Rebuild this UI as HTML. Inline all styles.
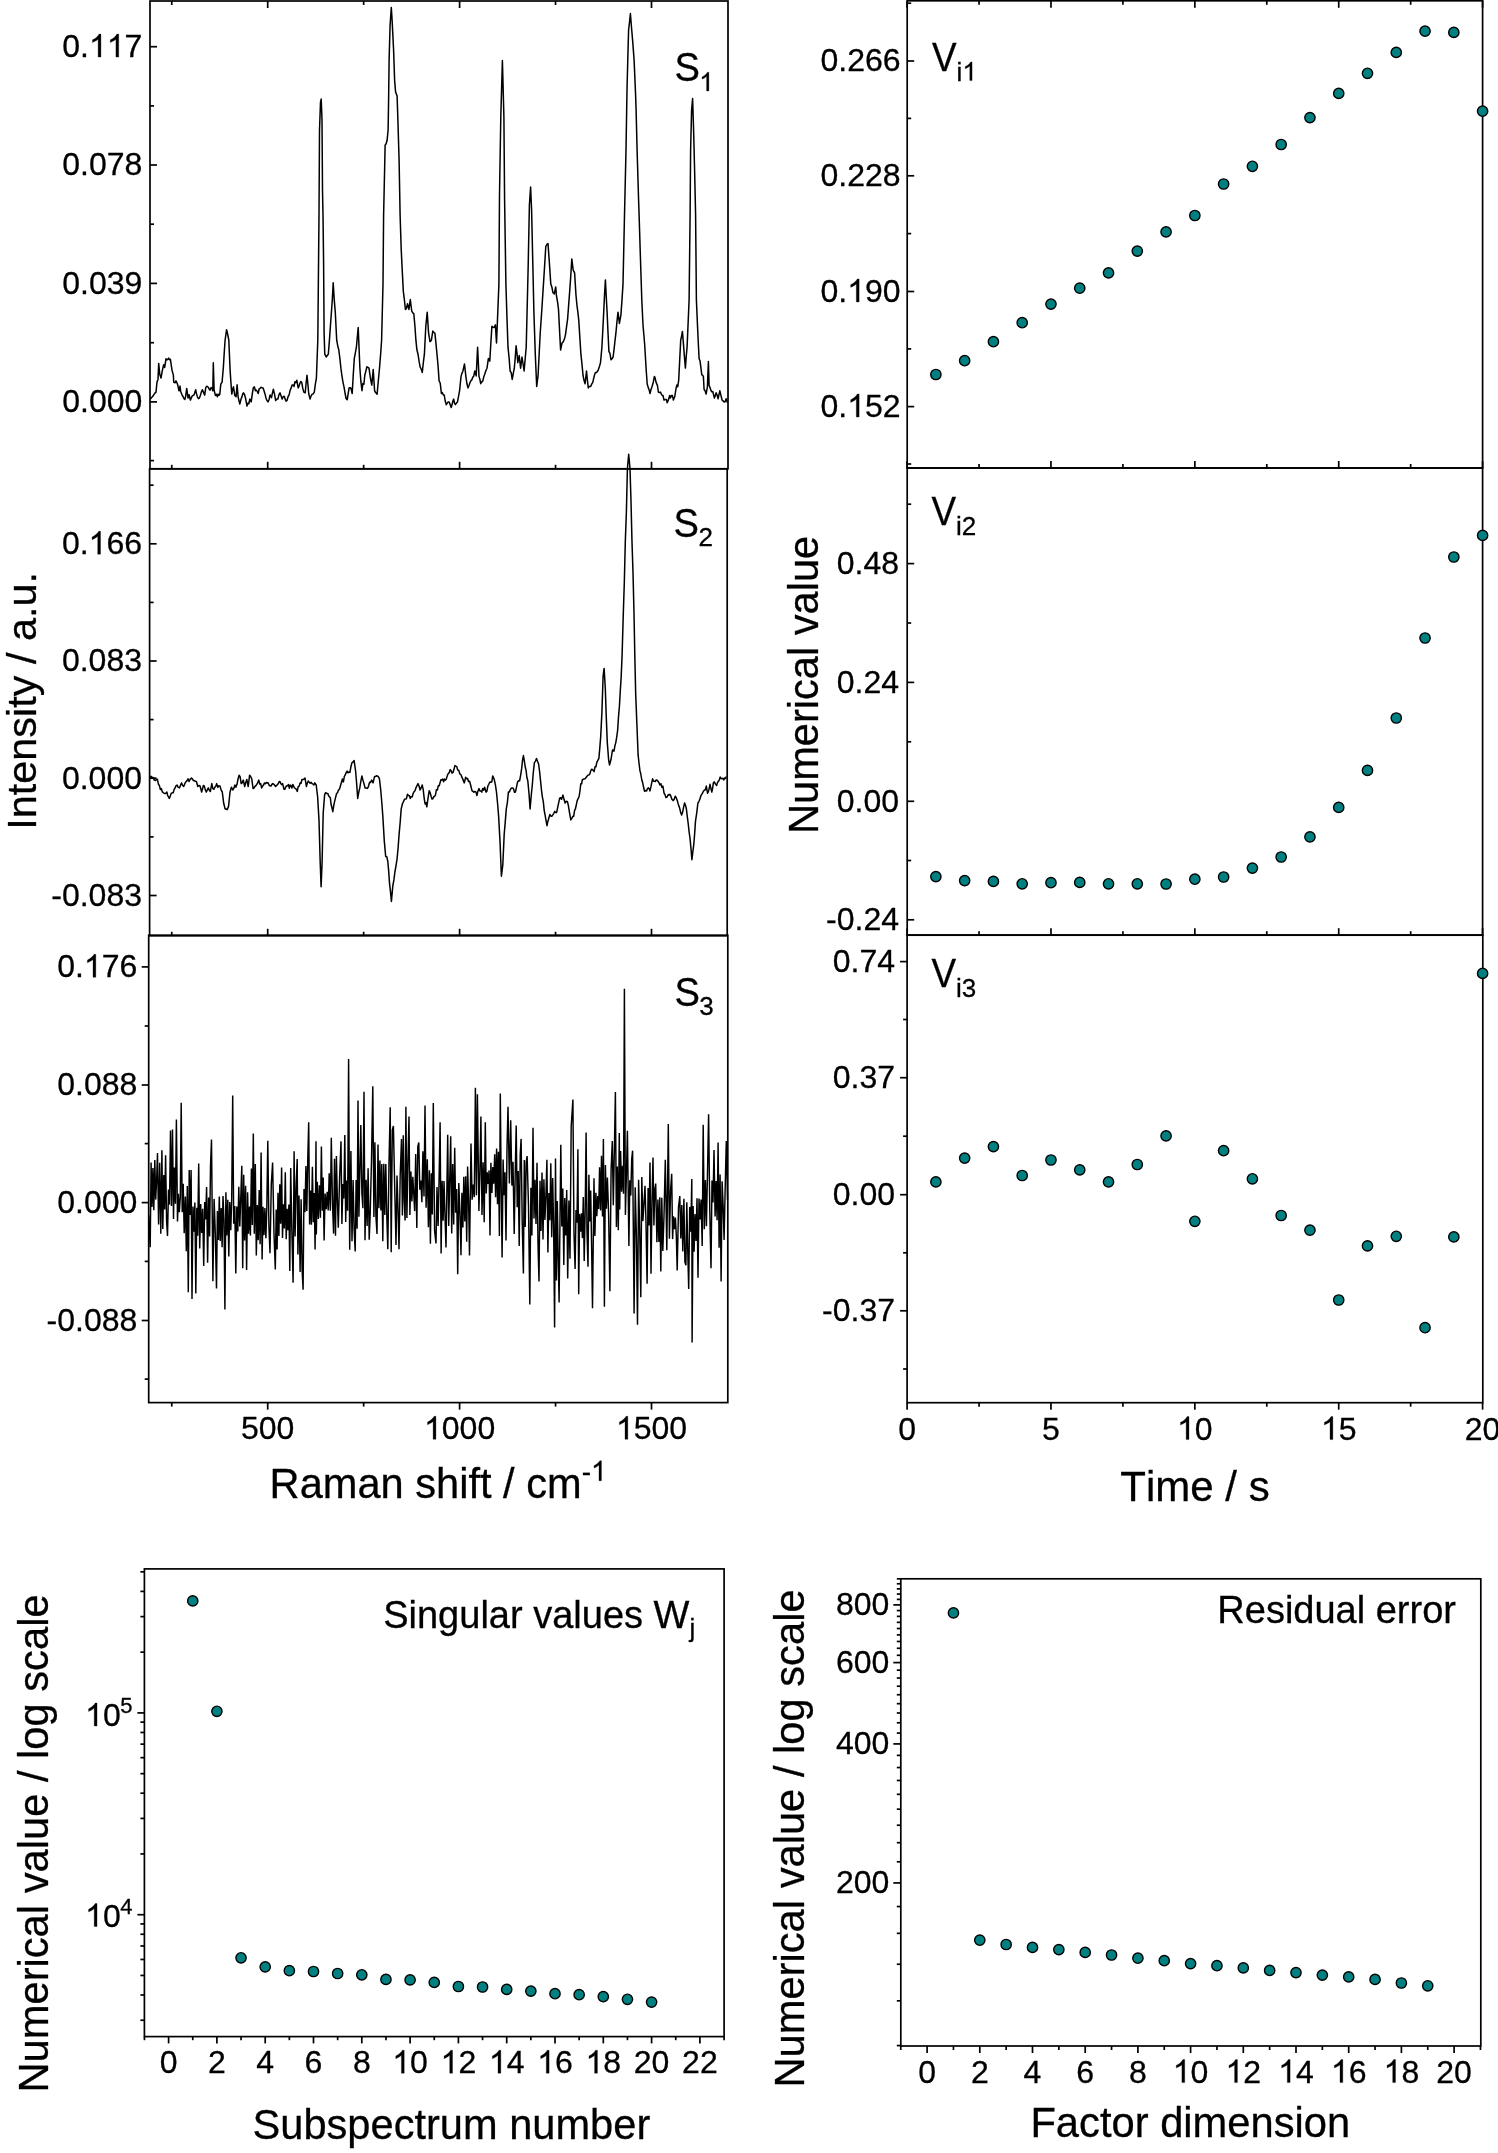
<!DOCTYPE html>
<html><head><meta charset="utf-8"><style>
html,body{margin:0;padding:0;background:#fff;width:1498px;height:2153px;overflow:hidden;}
svg{display:block;will-change:transform;font-family:"Liberation Sans", sans-serif;}
svg text{fill:#000;font-kerning:none;stroke:#000;stroke-width:0.3px;}
</style></head><body>
<svg width="1498" height="2153" viewBox="0 0 1498 2153"><path d="M150.0,398.6 L151.0,398.4 L152.3,396.8 L153.5,395.2 L154.7,393.4 L156.0,392.1 L157.0,382.1 L158.0,379.4 L158.7,363.4 L159.7,374.1 L161.0,378.1 L162.4,370.1 L163.7,364.7 L164.7,367.4 L166.0,358.7 L166.9,359.9 L167.8,359.3 L168.7,358.1 L169.6,359.8 L170.4,359.4 L172.0,370.1 L173.4,375.4 L173.7,382.1 L175.0,382.8 L176.0,380.8 L176.8,382.5 L177.7,384.8 L179.0,390.8 L180.0,386.1 L180.7,391.4 L182.0,394.8 L183.0,396.5 L184.0,398.8 L184.8,399.5 L185.7,396.1 L186.7,388.4 L188.1,398.1 L189.1,394.8 L190.4,400.1 L191.2,398.3 L192.1,396.1 L193.1,395.4 L194.1,394.8 L195.7,389.8 L196.6,394.1 L197.4,396.8 L198.4,398.7 L199.4,398.1 L200.4,395.3 L201.4,391.9 L202.4,389.8 L203.4,392.1 L204.7,395.1 L205.7,387.8 L206.7,386.2 L207.7,386.8 L208.5,387.5 L209.3,389.5 L210.1,390.1 L211.1,387.6 L212.1,388.1 L212.8,390.8 L213.3,362.7 L214.1,390.1 L215.4,395.4 L216.4,394.4 L217.4,396.8 L218.2,394.1 L219.0,395.3 L219.8,394.1 L220.8,384.1 L222.1,382.1 L223.4,366.7 L224.2,353.2 L225.1,340.0 L226.6,329.7 L227.7,334.5 L228.8,340.0 L230.1,370.1 L230.9,382.2 L231.8,394.1 L232.7,389.0 L233.5,386.8 L234.8,395.4 L236.1,396.8 L237.1,384.8 L238.1,396.8 L238.9,400.4 L239.8,404.1 L241.1,398.8 L241.9,397.1 L242.7,394.0 L243.5,392.8 L244.5,394.5 L245.5,398.0 L247.0,406.1 L247.9,403.3 L248.9,403.7 L249.8,399.1 L251.2,401.9 L252.2,394.3 L253.3,387.9 L254.4,386.9 L255.4,390.7 L256.3,390.1 L257.3,391.4 L258.2,393.5 L259.1,389.0 L260.1,388.4 L261.0,387.2 L262.1,387.9 L263.1,387.9 L264.0,390.8 L265.0,393.9 L265.9,397.7 L266.9,400.4 L268.0,401.9 L269.1,399.5 L270.1,394.9 L271.5,397.7 L272.4,393.2 L273.4,389.3 L274.5,394.2 L275.7,400.5 L276.8,399.1 L277.9,399.1 L278.9,394.9 L280.0,392.8 L281.1,395.9 L282.1,399.1 L283.1,396.8 L284.2,396.3 L285.1,398.9 L286.1,401.2 L287.0,400.5 L288.1,396.5 L289.1,394.9 L290.1,390.4 L291.2,387.9 L292.1,385.1 L293.1,384.9 L294.0,386.5 L294.9,381.8 L295.9,382.6 L296.8,380.2 L298.2,387.9 L299.1,385.9 L299.9,383.3 L300.8,381.5 L301.7,382.3 L302.8,388.4 L303.8,392.1 L305.2,392.8 L306.1,383.2 L307.0,375.2 L307.9,384.2 L308.7,393.5 L310.1,399.1 L311.1,395.9 L312.2,394.2 L313.2,393.9 L314.3,392.1 L315.4,383.8 L316.4,378.0 L317.8,340.2 L319.0,215.0 L319.5,130.2 L320.5,102.1 L321.2,99.1 L322.0,120.2 L322.5,190.2 L323.0,215.0 L323.6,263.0 L324.1,333.2 L324.8,354.2 L326.2,357.0 L327.2,355.5 L328.3,354.2 L329.4,340.6 L330.4,326.2 L331.3,313.7 L332.3,299.8 L333.2,282.7 L334.2,299.1 L335.3,312.2 L336.7,340.2 L337.8,346.1 L338.8,350.0 L339.9,358.6 L340.9,368.2 L341.9,375.6 L343.0,382.3 L344.1,387.4 L345.1,393.5 L346.1,398.5 L347.2,399.8 L348.1,394.1 L349.1,387.9 L350.0,387.7 L350.8,387.9 L352.2,393.5 L353.2,375.7 L354.3,358.4 L355.4,352.6 L356.4,347.2 L357.3,337.2 L358.2,327.6 L359.0,346.9 L359.9,368.2 L360.9,381.7 L362.0,390.7 L362.9,383.4 L363.9,384.3 L364.8,375.2 L365.9,370.9 L366.9,366.8 L367.9,367.3 L369.0,368.2 L370.4,378.0 L371.8,385.1 L373.2,369.6 L374.6,390.7 L375.4,392.3 L376.3,393.3 L377.1,394.2 L378.3,381.0 L379.5,368.2 L380.6,354.6 L381.6,340.2 L383.0,284.1 L383.6,215.0 L384.6,170.2 L385.1,145.2 L386.1,143.8 L387.1,140.2 L388.1,130.2 L388.6,100.1 L389.1,60.1 L390.1,25.0 L391.3,7.5 L392.1,20.0 L393.6,50.1 L394.6,80.1 L395.6,92.1 L397.1,96.1 L397.9,120.2 L399.1,160.2 L400.1,215.0 L401.2,249.1 L402.2,269.6 L403.3,291.1 L404.4,299.8 L405.4,309.4 L406.4,308.7 L407.5,303.7 L408.9,309.4 L410.3,299.5 L411.7,310.8 L412.8,312.8 L413.8,313.6 L414.9,325.8 L415.9,340.2 L416.9,349.8 L418.0,354.2 L419.1,361.4 L420.1,366.8 L421.2,369.0 L422.3,372.4 L423.4,362.0 L424.4,354.2 L425.8,326.2 L427.2,312.2 L428.6,333.2 L430.0,341.6 L431.4,340.2 L432.8,331.1 L433.9,332.5 L434.9,333.2 L435.9,342.8 L437.0,354.2 L438.1,366.4 L439.1,380.9 L440.2,383.0 L441.4,393.5 L442.3,392.5 L443.3,395.0 L444.2,394.9 L445.2,401.0 L446.3,404.7 L447.4,402.8 L448.4,401.9 L449.3,402.2 L450.3,404.9 L451.2,407.5 L452.0,404.8 L452.9,401.0 L453.7,399.1 L454.5,403.2 L455.4,404.7 L456.4,403.1 L457.5,401.9 L458.6,396.1 L459.6,390.7 L461.0,376.6 L461.9,373.4 L462.8,371.5 L463.6,367.9 L464.5,364.0 L465.9,376.6 L466.9,383.8 L468.0,387.9 L469.1,385.3 L470.1,382.3 L471.0,380.6 L471.9,379.7 L472.7,377.2 L473.6,376.6 L474.8,371.0 L476.2,375.9 L477.6,347.2 L479.0,376.6 L479.9,379.3 L480.7,383.7 L481.8,381.9 L482.8,380.9 L483.9,376.4 L484.9,373.8 L485.9,370.5 L487.0,368.2 L488.4,358.4 L489.8,361.2 L490.9,342.0 L491.9,326.2 L492.9,327.3 L494.0,327.6 L495.4,324.8 L496.5,343.0 L497.5,319.2 L498.9,284.1 L499.5,194.9 L500.8,117.0 L502.4,60.4 L503.9,117.0 L504.6,200.0 L505.9,284.1 L506.9,315.7 L508.0,347.2 L509.1,357.8 L510.1,371.0 L511.2,372.7 L512.2,379.4 L513.2,373.8 L514.3,368.2 L515.2,358.2 L516.1,345.8 L517.0,353.4 L517.8,362.6 L519.2,355.6 L520.6,368.2 L522.0,357.0 L523.0,363.5 L524.1,371.0 L525.2,358.5 L526.2,347.2 L527.2,306.8 L528.2,265.0 L529.4,205.0 L530.6,187.1 L531.6,210.0 L532.5,250.0 L533.9,312.2 L535.3,354.2 L536.7,386.5 L538.1,375.2 L539.2,353.2 L540.2,333.2 L541.1,320.3 L542.1,305.5 L543.0,291.1 L543.9,277.2 L544.9,261.2 L545.8,246.3 L546.9,244.6 L548.0,243.5 L549.4,263.1 L550.8,284.1 L551.8,286.7 L552.9,292.5 L554.3,293.9 L555.7,286.9 L556.4,295.3 L557.5,301.6 L558.5,309.4 L559.5,329.4 L560.6,350.0 L562.0,343.0 L563.4,341.6 L564.5,338.8 L565.5,334.6 L566.5,327.2 L567.6,319.2 L568.7,304.4 L569.7,291.1 L570.8,275.5 L571.8,258.9 L573.2,270.1 L574.6,272.9 L576.0,295.3 L576.9,304.8 L577.9,312.3 L578.8,320.6 L579.8,336.9 L580.9,354.2 L582.0,364.3 L583.0,375.2 L584.0,380.3 L585.1,383.7 L586.5,371.0 L587.4,380.0 L588.3,387.9 L589.1,386.4 L589.9,386.6 L590.7,386.5 L591.8,383.9 L592.8,382.3 L593.7,378.2 L594.7,374.3 L595.6,372.4 L596.5,372.4 L597.5,371.3 L598.4,369.6 L599.5,366.2 L600.5,362.6 L601.9,347.2 L602.8,330.3 L603.7,312.2 L604.5,295.3 L605.4,279.9 L606.2,295.9 L607.1,312.2 L608.0,332.5 L608.9,351.4 L610.0,353.6 L611.0,359.8 L612.0,358.8 L613.1,357.0 L614.0,349.9 L615.0,340.6 L615.9,333.2 L617.0,321.2 L618.0,312.2 L619.4,323.4 L620.9,315.0 L622.0,299.9 L623.0,284.1 L624.5,215.0 L626.0,150.2 L627.0,90.1 L627.8,59.1 L628.6,30.0 L629.5,22.4 L630.4,13.5 L631.5,27.5 L632.6,40.1 L634.1,60.1 L635.6,95.1 L636.1,110.1 L637.1,150.2 L638.6,200.3 L639.1,215.0 L640.5,260.0 L641.8,300.0 L643.0,325.0 L643.9,335.2 L644.7,345.0 L646.2,370.0 L647.2,384.0 L648.4,388.1 L649.2,390.0 L650.0,393.5 L651.0,389.5 L652.0,386.8 L653.2,382.5 L654.4,376.4 L655.2,378.3 L656.0,382.1 L657.4,385.4 L658.4,392.1 L659.4,392.6 L660.4,392.1 L661.4,394.1 L662.2,395.4 L663.0,395.5 L664.0,400.1 L665.2,399.5 L666.4,399.5 L667.2,402.8 L668.1,400.8 L668.9,398.2 L669.7,395.5 L670.5,397.9 L671.4,395.5 L672.4,395.6 L673.4,400.1 L674.7,396.8 L676.1,388.1 L676.9,385.0 L677.7,386.8 L678.7,380.1 L679.7,360.1 L680.7,340.1 L681.5,336.8 L682.4,331.4 L683.4,343.4 L684.4,356.4 L685.4,368.1 L686.2,357.1 L687.1,346.7 L688.1,323.4 L689.1,300.0 L690.1,215.0 L690.6,150.2 L691.6,110.1 L692.6,98.6 L693.6,130.2 L694.6,170.2 L695.6,215.0 L696.4,300.0 L697.4,323.4 L698.2,341.0 L699.1,358.7 L700.0,360.7 L700.8,366.8 L701.8,374.8 L702.6,375.1 L703.4,376.8 L704.1,389.5 L705.1,390.7 L706.1,394.1 L707.4,386.8 L708.4,361.4 L709.1,385.4 L710.0,387.5 L710.8,390.1 L711.8,391.8 L712.8,391.5 L713.6,394.9 L714.4,398.1 L715.2,395.9 L716.1,392.8 L717.1,395.0 L718.1,398.8 L719.0,394.3 L719.8,390.8 L721.0,395.6 L722.1,400.1 L723.1,400.8 L724.1,402.1 L725.1,401.8 L726.1,398.8 L727.5,402.8" fill="none" stroke="#000" stroke-width="1.5" stroke-linejoin="round"/>
<path d="M150.1,778.0 L151.1,776.4 L152.2,777.3 L153.2,777.4 L154.3,780.1 L155.4,780.5 L156.4,779.4 L157.4,779.3 L158.5,784.3 L159.4,785.6 L160.4,789.6 L161.3,788.6 L162.4,791.9 L163.4,792.8 L164.4,793.4 L165.5,793.5 L166.9,792.1 L167.7,795.7 L168.5,796.9 L169.3,798.4 L170.2,796.4 L171.1,793.5 L172.1,792.8 L173.2,792.8 L174.1,789.6 L175.1,787.9 L176.0,785.7 L177.1,785.1 L178.1,787.2 L179.5,787.9 L180.6,785.0 L181.6,782.9 L182.6,785.5 L183.7,786.5 L185.2,782.9 L186.1,781.6 L187.1,780.6 L188.0,778.7 L189.1,781.5 L190.1,779.4 L191.5,778.0 L192.4,779.0 L193.4,780.5 L194.3,780.8 L195.4,781.3 L196.4,781.5 L197.8,786.5 L198.9,785.5 L199.9,785.7 L200.8,788.5 L201.6,792.1 L202.4,789.6 L203.3,785.6 L204.1,785.7 L205.1,788.9 L206.2,792.1 L207.2,790.2 L208.3,787.9 L209.4,790.4 L210.4,791.4 L211.8,783.6 L212.9,788.7 L213.9,789.3 L214.8,787.2 L215.8,786.2 L216.7,783.6 L217.8,787.4 L218.8,785.7 L219.9,785.9 L220.9,789.3 L222.3,792.1 L223.7,803.3 L225.1,808.9 L226.1,808.8 L227.2,809.6 L228.6,806.1 L230.0,792.1 L231.4,787.2 L232.8,790.0 L233.9,788.2 L234.9,785.0 L235.9,787.2 L237.0,784.3 L238.1,778.7 L239.1,775.2 L240.1,776.7 L241.2,783.6 L242.2,782.6 L243.3,780.1 L244.7,786.5 L245.8,782.4 L246.8,779.4 L248.2,786.5 L249.6,775.2 L250.6,776.5 L251.7,778.7 L253.1,788.6 L254.0,788.1 L255.0,786.4 L255.9,785.7 L256.9,784.2 L257.8,782.4 L258.8,780.1 L259.7,784.1 L260.7,783.6 L261.6,787.9 L262.5,786.3 L263.5,785.1 L264.4,783.0 L265.3,783.8 L266.3,782.5 L267.2,783.0 L268.1,782.8 L269.1,785.3 L270.0,785.7 L270.9,786.2 L271.9,784.4 L272.8,783.6 L273.7,784.2 L274.7,785.3 L275.6,786.5 L276.5,785.5 L277.5,784.6 L278.4,783.6 L279.2,781.5 L280.1,781.7 L280.9,783.8 L281.8,784.6 L282.6,783.6 L284.0,789.3 L284.9,789.2 L285.9,786.6 L286.8,785.7 L287.6,785.7 L288.5,784.5 L289.3,788.2 L290.2,785.1 L291.0,785.7 L291.9,788.0 L292.8,784.4 L293.6,786.2 L294.5,787.9 L295.4,788.5 L296.4,789.4 L297.3,791.4 L298.2,786.7 L299.2,786.1 L300.1,783.0 L301.0,783.2 L302.0,779.5 L302.9,779.4 L303.9,779.3 L305.0,778.0 L306.4,786.5 L307.3,783.0 L308.3,781.0 L309.2,782.2 L310.1,783.3 L311.1,782.3 L312.0,783.6 L312.9,783.9 L313.9,785.0 L314.8,782.9 L316.2,785.0 L317.6,796.3 L319.0,820.1 L320.2,862.2 L321.1,886.7 L322.1,862.2 L323.2,813.1 L324.6,794.9 L325.6,792.6 L326.7,793.5 L327.8,793.6 L328.9,796.3 L330.3,797.7 L331.1,804.5 L332.0,807.9 L332.8,811.7 L333.6,806.5 L334.5,801.9 L335.6,797.4 L336.6,793.5 L337.5,792.7 L338.5,790.1 L339.4,789.3 L340.4,786.0 L341.5,782.2 L342.4,778.9 L343.4,781.9 L344.3,776.6 L345.2,774.9 L346.2,772.6 L347.1,771.0 L348.0,772.8 L349.0,772.0 L349.9,772.4 L350.9,766.8 L352.0,762.6 L353.1,762.0 L354.1,760.5 L355.6,771.0 L356.6,783.0 L357.7,798.4 L358.8,792.0 L359.8,787.9 L360.9,780.8 L361.9,775.9 L362.9,780.1 L364.0,783.6 L365.1,788.1 L366.1,787.9 L367.1,788.4 L368.2,787.2 L369.6,782.2 L370.6,782.4 L371.7,780.1 L373.1,782.9 L374.5,776.6 L375.4,776.6 L376.4,775.8 L377.3,775.9 L378.4,776.8 L379.4,778.7 L380.8,790.7 L381.9,803.7 L382.9,817.3 L384.3,841.1 L385.7,856.5 L386.8,856.7 L387.9,862.2 L388.7,871.4 L389.5,883.2 L390.4,890.9 L391.4,901.4 L392.8,886.0 L393.9,879.9 L394.9,872.0 L395.9,866.4 L397.0,859.4 L398.1,848.0 L399.1,834.1 L400.1,823.2 L401.2,808.9 L402.6,803.3 L403.5,801.6 L404.5,799.3 L405.4,799.1 L406.4,798.8 L407.5,794.2 L408.4,795.6 L409.4,795.8 L410.3,798.4 L411.2,796.6 L412.2,796.9 L413.1,793.5 L414.0,791.8 L415.0,790.7 L415.9,787.9 L416.9,785.9 L418.0,783.6 L419.1,786.3 L420.1,790.0 L421.1,787.9 L422.2,785.0 L423.2,789.7 L424.3,799.1 L425.1,804.0 L426.0,802.7 L426.8,806.8 L428.0,798.4 L429.2,790.7 L430.1,792.5 L431.1,796.3 L432.0,799.1 L432.9,798.8 L433.8,796.5 L434.6,796.4 L435.5,794.9 L436.4,789.7 L437.4,790.0 L438.3,785.7 L439.2,785.8 L440.1,782.6 L440.9,779.8 L441.8,780.1 L442.7,779.1 L443.6,781.7 L444.4,779.0 L445.3,780.1 L446.2,779.3 L447.2,776.1 L448.1,773.8 L449.1,772.9 L450.2,769.6 L451.1,770.7 L452.1,773.1 L453.0,772.4 L453.9,769.6 L454.9,765.6 L455.8,766.1 L456.8,766.6 L457.7,770.1 L458.7,770.3 L459.8,773.8 L460.8,774.5 L461.9,777.1 L462.9,779.4 L464.3,782.9 L465.7,777.3 L466.6,778.7 L467.6,778.5 L468.5,781.5 L469.6,781.3 L470.6,785.0 L472.0,790.7 L472.9,791.4 L473.9,792.3 L474.8,791.4 L475.9,791.9 L476.9,795.6 L477.9,791.2 L479.0,788.6 L479.9,791.1 L480.9,791.1 L481.8,792.1 L482.7,788.4 L483.7,790.1 L484.6,787.2 L486.0,792.1 L486.9,791.2 L487.9,785.8 L488.8,784.3 L489.9,782.0 L490.9,782.2 L491.8,781.8 L492.7,775.9 L493.5,777.6 L494.4,780.1 L495.4,784.8 L496.5,792.1 L497.6,803.8 L498.6,815.9 L500.0,841.1 L501.4,876.2 L502.8,865.0 L504.2,834.1 L505.2,822.6 L506.3,808.9 L507.4,802.3 L508.4,792.1 L509.4,791.9 L510.5,789.3 L511.6,788.1 L512.6,787.9 L513.5,788.7 L514.5,792.3 L515.4,792.1 L516.5,787.1 L517.5,782.2 L518.5,780.8 L519.6,780.8 L520.7,774.8 L521.7,768.2 L522.5,760.5 L523.4,755.6 L524.3,760.6 L525.2,766.8 L526.1,770.5 L526.9,777.5 L527.8,780.8 L529.0,793.5 L530.1,808.9 L531.2,795.8 L532.3,785.0 L533.3,772.5 L534.4,762.6 L535.5,761.1 L536.5,758.4 L537.5,761.3 L538.6,764.0 L539.5,770.9 L540.5,780.3 L541.4,789.3 L542.3,796.6 L543.3,801.7 L544.2,810.3 L545.1,815.2 L546.1,820.8 L547.0,825.7 L547.9,821.2 L548.9,818.1 L549.8,814.5 L550.8,816.0 L551.8,816.3 L552.8,814.9 L553.8,813.3 L554.8,811.4 L555.7,812.6 L556.6,812.6 L557.6,807.9 L558.7,802.7 L559.7,798.2 L560.6,797.7 L561.5,799.4 L563.0,795.1 L564.0,799.3 L565.1,803.0 L566.3,801.3 L567.5,801.8 L568.4,805.7 L569.3,811.4 L570.8,819.9 L571.8,818.3 L572.9,816.3 L573.7,816.2 L574.6,810.3 L575.4,809.0 L576.3,804.8 L577.2,800.6 L578.1,798.6 L579.0,797.0 L579.9,791.5 L580.8,783.7 L581.6,783.8 L582.4,779.5 L583.2,779.4 L584.1,778.9 L585.0,778.8 L585.9,777.8 L586.8,776.4 L587.8,775.2 L588.8,775.1 L589.8,774.0 L590.8,770.6 L591.7,769.2 L592.9,770.1 L594.1,771.6 L595.0,766.8 L595.9,766.8 L596.8,762.4 L597.7,760.7 L598.9,758.3 L599.8,747.9 L600.7,736.6 L601.9,712.4 L603.1,676.2 L604.1,668.4 L605.3,688.3 L606.1,712.4 L607.3,742.6 L608.6,759.5 L609.5,765.0 L611.0,759.5 L612.5,749.9 L614.0,751.1 L614.9,745.8 L615.8,742.6 L616.7,737.2 L617.6,730.5 L618.5,717.0 L619.4,706.4 L620.3,690.9 L621.2,676.2 L622.1,655.0 L623.3,613.6 L624.3,583.0 L625.3,542.1 L626.4,511.5 L627.4,468.6 L628.7,454.3 L630.0,468.6 L631.0,501.3 L632.0,542.1 L633.0,572.8 L634.0,613.6 L634.8,655.0 L635.7,694.3 L636.9,724.5 L638.1,754.7 L639.0,763.0 L639.9,770.4 L640.8,774.0 L641.8,780.0 L642.7,782.8 L643.6,787.3 L644.6,791.3 L645.6,790.5 L646.6,790.9 L647.5,788.6 L648.4,787.9 L649.2,788.8 L650.0,790.9 L650.9,786.9 L651.7,782.9 L652.6,778.8 L653.5,781.2 L654.4,781.3 L655.3,781.5 L656.2,780.0 L657.1,780.2 L658.0,781.3 L659.0,782.7 L659.9,784.9 L660.9,783.7 L661.9,787.4 L662.9,786.1 L664.1,793.3 L665.0,794.6 L665.9,797.6 L667.1,796.9 L668.3,794.6 L669.1,795.1 L669.9,794.4 L670.7,795.7 L671.9,799.2 L673.1,800.6 L674.1,799.4 L675.2,796.2 L676.2,797.6 L677.4,800.9 L678.6,805.4 L679.6,807.9 L680.6,812.3 L681.6,815.1 L682.6,812.3 L683.6,807.2 L684.6,803.0 L685.5,805.2 L686.4,809.0 L687.3,816.7 L688.2,823.5 L689.1,832.0 L690.0,838.0 L691.0,848.7 L691.9,859.7 L692.8,852.2 L693.7,845.2 L694.6,834.4 L695.5,821.1 L696.7,813.2 L697.9,803.0 L698.9,801.6 L699.9,799.0 L700.9,795.7 L702.1,793.9 L703.3,791.5 L704.3,790.1 L705.3,789.9 L706.3,786.1 L707.6,793.3 L708.8,790.2 L710.0,784.3 L710.9,788.3 L711.8,792.1 L712.6,788.3 L713.4,782.8 L714.2,781.9 L715.4,783.9 L716.6,785.5 L717.5,782.6 L718.4,781.3 L719.3,779.8 L720.2,777.0 L721.1,778.7 L722.0,778.6 L722.9,778.3 L723.8,780.0 L724.6,778.0 L725.5,778.5 L726.3,776.4" fill="none" stroke="#000" stroke-width="1.5" stroke-linejoin="round"/>
<path d="M148.7,1215.0 L150.2,1247.2 L151.1,1162.6 L152.0,1207.1 L152.9,1168.1 L153.8,1210.3 L154.8,1160.1 L155.7,1199.6 L156.6,1180.5 L157.5,1153.0 L158.6,1224.4 L159.7,1162.8 L160.8,1233.8 L161.9,1150.2 L162.8,1229.0 L163.8,1175.1 L164.7,1209.4 L165.6,1155.2 L166.6,1221.6 L167.5,1236.0 L168.5,1189.6 L169.5,1204.6 L170.5,1130.6 L171.5,1205.9 L172.5,1129.6 L173.5,1219.0 L174.4,1167.5 L175.4,1203.7 L176.4,1119.6 L177.5,1221.5 L178.4,1193.8 L179.3,1212.2 L180.3,1197.0 L181.2,1102.8 L182.2,1212.3 L183.2,1183.8 L184.2,1233.3 L185.3,1196.6 L186.3,1251.3 L187.3,1186.1 L188.3,1292.3 L189.2,1170.1 L190.2,1214.9 L191.1,1170.0 L192.0,1299.0 L193.0,1206.5 L193.9,1231.8 L194.9,1202.6 L195.8,1293.6 L196.8,1207.8 L197.7,1235.8 L198.7,1163.6 L199.7,1248.6 L200.7,1204.1 L201.7,1232.9 L202.7,1208.8 L203.7,1266.1 L204.7,1202.1 L205.6,1219.5 L206.6,1186.9 L207.6,1262.8 L208.6,1197.5 L209.6,1236.5 L210.5,1166.1 L211.5,1139.6 L212.9,1281.2 L214.1,1198.9 L215.3,1233.5 L216.5,1288.4 L217.4,1210.9 L218.4,1239.9 L219.3,1196.5 L220.2,1241.0 L221.2,1208.0 L222.1,1247.3 L223.0,1196.0 L224.0,1220.4 L224.9,1309.6 L225.9,1192.3 L226.8,1235.4 L227.8,1199.8 L228.8,1256.4 L229.8,1202.0 L230.8,1230.3 L231.7,1198.8 L232.7,1095.6 L233.7,1223.8 L234.8,1206.0 L235.8,1273.4 L236.8,1206.6 L237.8,1231.4 L238.8,1186.7 L239.8,1226.5 L240.8,1196.8 L241.8,1165.8 L242.7,1268.3 L243.7,1174.7 L244.6,1240.5 L245.6,1185.7 L246.6,1270.0 L247.6,1192.3 L248.5,1233.8 L249.5,1206.6 L250.4,1235.5 L251.4,1168.4 L252.3,1224.9 L253.3,1133.5 L254.3,1233.7 L255.3,1164.0 L256.3,1255.5 L257.3,1205.1 L258.2,1240.3 L259.2,1190.0 L260.1,1244.3 L261.1,1152.6 L262.1,1259.6 L263.0,1206.8 L264.0,1235.1 L264.9,1208.0 L265.9,1238.2 L266.8,1208.3 L267.8,1140.7 L268.9,1226.0 L270.0,1253.3 L271.3,1184.2 L272.6,1162.5 L274.0,1234.0 L275.3,1269.5 L276.2,1209.6 L277.1,1249.5 L278.0,1192.7 L278.9,1236.0 L279.8,1184.3 L280.7,1223.8 L281.6,1167.5 L282.5,1238.0 L283.5,1204.3 L284.4,1228.4 L285.3,1172.3 L286.2,1239.2 L287.1,1208.8 L288.0,1230.2 L288.9,1204.5 L289.8,1270.9 L290.7,1168.0 L291.9,1232.8 L293.1,1282.8 L294.1,1151.3 L295.1,1236.6 L296.2,1184.1 L297.2,1159.0 L297.9,1254.4 L299.0,1195.4 L300.1,1272.0 L301.1,1199.3 L302.1,1270.1 L303.1,1289.7 L304.0,1189.0 L305.0,1212.2 L305.9,1165.9 L306.8,1210.9 L307.8,1158.0 L308.7,1122.2 L309.6,1224.6 L310.5,1190.4 L311.4,1224.7 L312.4,1166.8 L313.3,1222.3 L314.2,1193.0 L315.1,1249.6 L316.0,1141.3 L316.3,1234.6 L317.3,1181.8 L318.3,1219.1 L319.4,1185.2 L320.4,1217.7 L321.4,1146.5 L322.3,1210.8 L323.2,1177.5 L324.1,1240.5 L325.1,1193.6 L326.2,1209.1 L327.2,1191.9 L328.2,1210.5 L329.2,1173.2 L330.3,1210.8 L331.3,1137.7 L332.5,1204.0 L333.6,1233.6 L334.5,1158.8 L335.5,1235.7 L336.4,1155.9 L337.4,1200.7 L338.3,1227.7 L339.6,1177.9 L341.0,1141.3 L341.9,1224.1 L342.9,1183.9 L343.8,1198.6 L344.8,1134.9 L345.7,1222.1 L346.7,1180.5 L347.6,1210.7 L348.6,1059.1 L349.7,1249.8 L350.9,1151.1 L352.0,1241.2 L353.1,1180.0 L354.1,1229.1 L355.2,1251.5 L356.1,1179.9 L357.1,1228.7 L358.0,1100.4 L358.9,1216.7 L359.9,1169.9 L360.8,1124.9 L361.9,1193.6 L362.9,1208.2 L364.0,1091.7 L365.0,1240.3 L366.1,1179.8 L367.1,1226.0 L368.1,1168.3 L369.2,1239.8 L370.2,1214.0 L371.5,1160.3 L372.8,1086.3 L373.9,1217.1 L374.9,1142.2 L375.9,1215.9 L377.0,1233.9 L378.0,1144.5 L378.9,1208.2 L379.9,1160.5 L380.9,1210.6 L381.8,1164.1 L382.8,1241.2 L383.8,1163.8 L384.8,1214.9 L385.8,1163.9 L386.8,1216.1 L387.8,1249.3 L389.0,1163.2 L390.2,1107.3 L391.2,1252.2 L392.3,1130.0 L393.4,1125.9 L394.7,1187.1 L396.0,1244.9 L397.0,1175.5 L398.0,1208.2 L399.0,1249.3 L400.2,1175.3 L401.5,1139.1 L402.4,1215.5 L403.3,1135.2 L404.2,1200.5 L405.1,1220.4 L405.9,1106.8 L406.9,1218.0 L408.0,1157.2 L409.0,1116.4 L409.9,1215.0 L410.9,1171.5 L411.9,1201.5 L412.8,1176.8 L413.8,1194.5 L414.7,1211.1 L415.7,1154.1 L416.8,1228.1 L417.8,1146.6 L418.8,1142.5 L419.8,1189.7 L420.9,1180.6 L421.9,1202.3 L422.9,1151.3 L424.0,1196.6 L425.0,1105.4 L426.1,1207.7 L427.3,1159.3 L428.4,1227.2 L429.4,1170.2 L430.4,1243.8 L431.3,1173.2 L432.3,1214.4 L433.3,1102.9 L434.6,1230.9 L436.0,1243.4 L437.0,1186.9 L438.1,1225.9 L439.1,1178.1 L440.1,1122.2 L441.1,1253.5 L442.1,1180.8 L443.1,1220.8 L444.0,1181.0 L445.0,1216.1 L446.0,1247.4 L447.7,1134.7 L448.7,1226.1 L449.7,1180.9 L450.7,1136.2 L451.7,1233.5 L452.7,1163.9 L453.7,1224.5 L454.7,1147.8 L455.7,1212.8 L456.7,1188.9 L457.7,1274.2 L458.8,1183.0 L459.9,1212.1 L461.0,1255.2 L461.9,1192.7 L462.9,1227.5 L463.8,1176.7 L464.8,1221.4 L465.7,1176.3 L466.7,1241.7 L467.6,1166.6 L468.6,1200.8 L469.5,1255.6 L471.0,1143.5 L472.1,1199.8 L473.2,1184.6 L474.3,1197.1 L475.4,1087.7 L476.4,1195.2 L477.4,1094.3 L478.9,1211.1 L479.9,1172.8 L480.9,1116.4 L482.0,1214.9 L483.1,1162.3 L484.2,1222.2 L485.3,1122.2 L486.2,1193.5 L487.2,1172.2 L488.1,1184.0 L489.1,1170.4 L490.0,1235.6 L490.9,1162.7 L491.9,1193.0 L492.8,1167.0 L493.7,1183.7 L494.7,1154.2 L495.6,1197.3 L496.6,1148.6 L497.5,1204.3 L498.4,1151.7 L499.4,1235.9 L500.3,1093.6 L501.2,1186.1 L502.1,1257.4 L503.1,1159.5 L504.1,1195.2 L505.0,1172.3 L506.0,1240.5 L507.0,1148.0 L508.0,1106.8 L509.4,1183.5 L510.7,1120.3 L511.9,1185.6 L513.0,1161.8 L514.2,1234.0 L515.2,1174.1 L516.2,1125.5 L517.2,1207.2 L518.2,1170.9 L519.2,1245.9 L520.2,1154.8 L521.1,1138.9 L522.2,1220.9 L523.4,1273.4 L524.3,1160.1 L525.2,1227.0 L526.2,1162.2 L527.1,1156.0 L528.5,1205.5 L529.8,1304.6 L530.9,1187.8 L531.9,1235.6 L533.0,1127.7 L534.0,1218.5 L535.0,1179.7 L536.0,1224.1 L537.0,1162.8 L538.0,1244.3 L539.0,1281.6 L540.0,1180.7 L541.0,1231.1 L542.0,1172.6 L543.0,1239.5 L543.9,1179.2 L544.9,1219.9 L545.9,1195.7 L546.9,1159.7 L547.9,1252.6 L548.9,1192.9 L549.8,1220.3 L550.8,1163.2 L551.7,1237.2 L552.7,1177.9 L553.6,1225.6 L554.6,1327.6 L555.5,1158.4 L556.4,1280.4 L557.3,1201.1 L558.2,1256.8 L559.1,1302.4 L560.8,1144.8 L561.8,1226.5 L562.8,1188.6 L563.8,1265.0 L564.7,1198.1 L565.7,1235.6 L566.7,1190.0 L567.7,1278.6 L568.9,1200.4 L570.0,1258.7 L571.2,1126.2 L572.9,1099.5 L574.0,1233.8 L575.1,1268.9 L576.0,1210.1 L577.0,1222.6 L577.9,1149.3 L578.7,1294.2 L579.6,1213.9 L580.6,1231.6 L581.5,1213.2 L582.4,1238.1 L583.3,1196.9 L584.2,1261.1 L585.2,1210.1 L586.1,1132.5 L587.0,1232.3 L588.0,1266.7 L588.9,1174.7 L589.8,1221.5 L590.7,1190.5 L591.6,1245.7 L592.5,1308.3 L594.0,1178.2 L594.9,1235.9 L595.9,1192.7 L596.8,1216.3 L597.8,1196.0 L598.7,1208.9 L599.6,1167.3 L600.6,1210.4 L601.5,1155.8 L602.5,1216.6 L603.4,1138.9 L604.4,1306.8 L605.4,1164.9 L606.4,1208.8 L607.4,1177.5 L608.6,1213.8 L609.9,1291.2 L611.1,1169.5 L612.3,1141.1 L613.3,1205.2 L614.4,1148.7 L615.4,1092.0 L616.4,1227.0 L617.3,1166.5 L618.3,1230.2 L619.3,1132.9 L619.7,1209.5 L620.6,1151.0 L621.6,1191.8 L622.5,1165.9 L623.5,1193.7 L624.4,988.7 L625.4,1214.9 L626.4,1175.2 L627.4,1130.7 L628.9,1245.9 L629.8,1180.2 L630.8,1195.6 L631.7,1159.1 L632.6,1150.7 L634.1,1313.5 L635.2,1187.3 L636.4,1235.5 L637.5,1324.7 L638.6,1179.7 L639.7,1230.8 L640.8,1297.2 L641.8,1177.0 L642.9,1221.1 L644.0,1202.7 L645.0,1185.7 L646.0,1223.3 L647.1,1283.8 L648.1,1188.0 L649.0,1225.5 L650.0,1162.6 L651.0,1273.7 L652.0,1201.0 L653.0,1157.4 L653.9,1225.4 L654.8,1189.5 L655.7,1183.5 L656.9,1242.2 L657.9,1199.5 L658.9,1242.0 L659.8,1197.3 L660.8,1271.5 L661.8,1197.8 L662.8,1251.1 L664.0,1216.1 L665.3,1159.7 L666.8,1250.3 L668.3,1124.0 L669.4,1238.8 L670.6,1190.1 L671.7,1173.8 L672.6,1239.1 L673.5,1216.3 L674.5,1229.3 L675.4,1217.5 L676.3,1234.8 L677.2,1270.4 L678.5,1207.4 L679.8,1196.1 L680.8,1238.4 L681.8,1205.0 L682.8,1251.4 L683.9,1198.8 L684.9,1262.2 L685.9,1265.2 L686.8,1202.2 L687.8,1252.9 L688.7,1289.0 L689.7,1206.9 L690.8,1231.8 L691.8,1179.0 L692.1,1342.5 L693.1,1206.1 L694.1,1251.7 L695.0,1214.0 L696.0,1241.0 L697.0,1198.3 L698.0,1277.8 L699.0,1198.6 L700.1,1219.5 L701.1,1199.6 L702.2,1246.1 L703.2,1124.7 L704.3,1229.2 L705.4,1179.9 L706.4,1226.3 L707.5,1172.4 L708.6,1114.3 L709.8,1212.2 L711.0,1268.2 L712.0,1180.6 L713.0,1202.5 L714.0,1150.0 L715.1,1216.4 L716.1,1181.0 L717.1,1220.2 L718.1,1142.6 L719.1,1247.8 L720.1,1174.5 L721.1,1281.5 L722.1,1181.2 L723.1,1205.0 L724.1,1240.0 L725.2,1187.3 L726.3,1141.1 L727.5,1200.0" fill="none" stroke="#000" stroke-width="1.45" stroke-linejoin="miter" stroke-miterlimit="2.5"/>
<rect x="150.00" y="1.00" width="578.00" height="467.80" fill="none" stroke="#000" stroke-width="1.7"/>
<line x1="150.00" y1="46.70" x2="157.00" y2="46.70" stroke="#000" stroke-width="1.7"/>
<path d="M763,0L583,0L583,1147Q518,1085 412.5,1023Q307,961 223,930L223,1104Q374,1175 487,1276Q600,1377 647,1472L763,1472Z" stroke="#000" stroke-width="19.2" transform="translate(89.01,57.10) scale(0.01562,-0.01562)"/>
<path d="M763,0L583,0L583,1147Q518,1085 412.5,1023Q307,961 223,930L223,1104Q374,1175 487,1276Q600,1377 647,1472L763,1472Z" stroke="#000" stroke-width="19.2" transform="translate(106.81,57.10) scale(0.01562,-0.01562)"/>
<text x="62.32 80.12 124.60" y="57.10" font-size="32">0.7</text>
<line x1="150.00" y1="165.00" x2="157.00" y2="165.00" stroke="#000" stroke-width="1.7"/>
<text x="62.32 80.12 89.01 106.81 124.60" y="175.40" font-size="32">0.078</text>
<line x1="150.00" y1="283.40" x2="157.00" y2="283.40" stroke="#000" stroke-width="1.7"/>
<text x="62.32 80.12 89.01 106.81 124.60" y="293.80" font-size="32">0.039</text>
<line x1="150.00" y1="401.90" x2="157.00" y2="401.90" stroke="#000" stroke-width="1.7"/>
<text x="62.32 80.12 89.01 106.81 124.60" y="412.30" font-size="32">0.000</text>
<line x1="150.00" y1="105.90" x2="154.00" y2="105.90" stroke="#000" stroke-width="1.7"/>
<line x1="150.00" y1="224.20" x2="154.00" y2="224.20" stroke="#000" stroke-width="1.7"/>
<line x1="150.00" y1="342.70" x2="154.00" y2="342.70" stroke="#000" stroke-width="1.7"/>
<line x1="150.00" y1="460.60" x2="154.00" y2="460.60" stroke="#000" stroke-width="1.7"/>
<line x1="267.70" y1="468.80" x2="267.70" y2="461.80" stroke="#000" stroke-width="1.7"/>
<line x1="459.60" y1="468.80" x2="459.60" y2="461.80" stroke="#000" stroke-width="1.7"/>
<line x1="651.50" y1="468.80" x2="651.50" y2="461.80" stroke="#000" stroke-width="1.7"/>
<line x1="171.75" y1="468.80" x2="171.75" y2="464.80" stroke="#000" stroke-width="1.7"/>
<line x1="363.65" y1="468.80" x2="363.65" y2="464.80" stroke="#000" stroke-width="1.7"/>
<line x1="555.55" y1="468.80" x2="555.55" y2="464.80" stroke="#000" stroke-width="1.7"/>
<line x1="267.70" y1="1.00" x2="267.70" y2="8.00" stroke="#000" stroke-width="1.7"/>
<line x1="459.60" y1="1.00" x2="459.60" y2="8.00" stroke="#000" stroke-width="1.7"/>
<line x1="651.50" y1="1.00" x2="651.50" y2="8.00" stroke="#000" stroke-width="1.7"/>
<line x1="171.75" y1="1.00" x2="171.75" y2="5.00" stroke="#000" stroke-width="1.7"/>
<line x1="363.65" y1="1.00" x2="363.65" y2="5.00" stroke="#000" stroke-width="1.7"/>
<line x1="555.55" y1="1.00" x2="555.55" y2="5.00" stroke="#000" stroke-width="1.7"/>
<rect x="149.60" y="468.80" width="577.60" height="467.00" fill="none" stroke="#000" stroke-width="1.7"/>
<line x1="149.60" y1="543.80" x2="156.60" y2="543.80" stroke="#000" stroke-width="1.7"/>
<path d="M763,0L583,0L583,1147Q518,1085 412.5,1023Q307,961 223,930L223,1104Q374,1175 487,1276Q600,1377 647,1472L763,1472Z" stroke="#000" stroke-width="19.2" transform="translate(88.61,554.20) scale(0.01562,-0.01562)"/>
<text x="61.92 79.72 106.41 124.20" y="554.20" font-size="32">0.66</text>
<line x1="149.60" y1="661.00" x2="156.60" y2="661.00" stroke="#000" stroke-width="1.7"/>
<text x="61.92 79.72 88.61 106.41 124.20" y="671.40" font-size="32">0.083</text>
<line x1="149.60" y1="778.20" x2="156.60" y2="778.20" stroke="#000" stroke-width="1.7"/>
<text x="61.92 79.72 88.61 106.41 124.20" y="788.60" font-size="32">0.000</text>
<line x1="149.60" y1="895.50" x2="156.60" y2="895.50" stroke="#000" stroke-width="1.7"/>
<text x="51.27 61.92 79.72 88.61 106.41 124.20" y="905.90" font-size="32">-0.083</text>
<line x1="149.60" y1="485.20" x2="153.60" y2="485.20" stroke="#000" stroke-width="1.7"/>
<line x1="149.60" y1="602.40" x2="153.60" y2="602.40" stroke="#000" stroke-width="1.7"/>
<line x1="149.60" y1="719.60" x2="153.60" y2="719.60" stroke="#000" stroke-width="1.7"/>
<line x1="149.60" y1="836.90" x2="153.60" y2="836.90" stroke="#000" stroke-width="1.7"/>
<line x1="267.70" y1="935.80" x2="267.70" y2="928.80" stroke="#000" stroke-width="1.7"/>
<line x1="459.60" y1="935.80" x2="459.60" y2="928.80" stroke="#000" stroke-width="1.7"/>
<line x1="651.50" y1="935.80" x2="651.50" y2="928.80" stroke="#000" stroke-width="1.7"/>
<line x1="171.75" y1="935.80" x2="171.75" y2="931.80" stroke="#000" stroke-width="1.7"/>
<line x1="363.65" y1="935.80" x2="363.65" y2="931.80" stroke="#000" stroke-width="1.7"/>
<line x1="555.55" y1="935.80" x2="555.55" y2="931.80" stroke="#000" stroke-width="1.7"/>
<rect x="148.70" y="935.20" width="579.10" height="467.40" fill="none" stroke="#000" stroke-width="1.7"/>
<line x1="148.70" y1="966.90" x2="141.70" y2="966.90" stroke="#000" stroke-width="1.7"/>
<path d="M763,0L583,0L583,1147Q518,1085 412.5,1023Q307,961 223,930L223,1104Q374,1175 487,1276Q600,1377 647,1472L763,1472Z" stroke="#000" stroke-width="19.2" transform="translate(83.91,977.30) scale(0.01562,-0.01562)"/>
<text x="57.22 75.02 101.71 119.50" y="977.30" font-size="32">0.76</text>
<line x1="148.70" y1="1085.00" x2="141.70" y2="1085.00" stroke="#000" stroke-width="1.7"/>
<text x="57.22 75.02 83.91 101.71 119.50" y="1095.40" font-size="32">0.088</text>
<line x1="148.70" y1="1202.60" x2="141.70" y2="1202.60" stroke="#000" stroke-width="1.7"/>
<text x="57.22 75.02 83.91 101.71 119.50" y="1213.00" font-size="32">0.000</text>
<line x1="148.70" y1="1320.50" x2="141.70" y2="1320.50" stroke="#000" stroke-width="1.7"/>
<text x="46.57 57.22 75.02 83.91 101.71 119.50" y="1330.90" font-size="32">-0.088</text>
<line x1="148.70" y1="1026.00" x2="144.70" y2="1026.00" stroke="#000" stroke-width="1.7"/>
<line x1="148.70" y1="1143.60" x2="144.70" y2="1143.60" stroke="#000" stroke-width="1.7"/>
<line x1="148.70" y1="1261.40" x2="144.70" y2="1261.40" stroke="#000" stroke-width="1.7"/>
<line x1="148.70" y1="1379.10" x2="144.70" y2="1379.10" stroke="#000" stroke-width="1.7"/>
<line x1="267.70" y1="1402.60" x2="267.70" y2="1409.60" stroke="#000" stroke-width="1.7"/>
<text x="241.00 258.80 276.60" y="1439.30" font-size="32">500</text>
<line x1="459.60" y1="1402.60" x2="459.60" y2="1409.60" stroke="#000" stroke-width="1.7"/>
<path d="M763,0L583,0L583,1147Q518,1085 412.5,1023Q307,961 223,930L223,1104Q374,1175 487,1276Q600,1377 647,1472L763,1472Z" stroke="#000" stroke-width="19.2" transform="translate(424.01,1439.30) scale(0.01562,-0.01562)"/>
<text x="441.80 459.60 477.40" y="1439.30" font-size="32">000</text>
<line x1="651.50" y1="1402.60" x2="651.50" y2="1409.60" stroke="#000" stroke-width="1.7"/>
<path d="M763,0L583,0L583,1147Q518,1085 412.5,1023Q307,961 223,930L223,1104Q374,1175 487,1276Q600,1377 647,1472L763,1472Z" stroke="#000" stroke-width="19.2" transform="translate(615.91,1439.30) scale(0.01562,-0.01562)"/>
<text x="633.70 651.50 669.30" y="1439.30" font-size="32">500</text>
<line x1="171.75" y1="1402.60" x2="171.75" y2="1406.60" stroke="#000" stroke-width="1.7"/>
<line x1="363.65" y1="1402.60" x2="363.65" y2="1406.60" stroke="#000" stroke-width="1.7"/>
<line x1="555.55" y1="1402.60" x2="555.55" y2="1406.60" stroke="#000" stroke-width="1.7"/>
<rect x="907.20" y="0.80" width="575.40" height="467.20" fill="none" stroke="#000" stroke-width="1.7"/>
<line x1="907.20" y1="61.00" x2="914.20" y2="61.00" stroke="#000" stroke-width="1.7"/>
<text x="820.52 838.32 847.21 865.01 882.80" y="71.40" font-size="32">0.266</text>
<line x1="907.20" y1="175.80" x2="914.20" y2="175.80" stroke="#000" stroke-width="1.7"/>
<text x="820.52 838.32 847.21 865.01 882.80" y="186.20" font-size="32">0.228</text>
<line x1="907.20" y1="291.50" x2="914.20" y2="291.50" stroke="#000" stroke-width="1.7"/>
<path d="M763,0L583,0L583,1147Q518,1085 412.5,1023Q307,961 223,930L223,1104Q374,1175 487,1276Q600,1377 647,1472L763,1472Z" stroke="#000" stroke-width="19.2" transform="translate(847.21,301.90) scale(0.01562,-0.01562)"/>
<text x="820.52 838.32 865.01 882.80" y="301.90" font-size="32">0.90</text>
<line x1="907.20" y1="406.60" x2="914.20" y2="406.60" stroke="#000" stroke-width="1.7"/>
<path d="M763,0L583,0L583,1147Q518,1085 412.5,1023Q307,961 223,930L223,1104Q374,1175 487,1276Q600,1377 647,1472L763,1472Z" stroke="#000" stroke-width="19.2" transform="translate(847.21,417.00) scale(0.01562,-0.01562)"/>
<text x="820.52 838.32 865.01 882.80" y="417.00" font-size="32">0.52</text>
<line x1="907.20" y1="3.20" x2="911.20" y2="3.20" stroke="#000" stroke-width="1.7"/>
<line x1="907.20" y1="118.40" x2="911.20" y2="118.40" stroke="#000" stroke-width="1.7"/>
<line x1="907.20" y1="233.60" x2="911.20" y2="233.60" stroke="#000" stroke-width="1.7"/>
<line x1="907.20" y1="348.90" x2="911.20" y2="348.90" stroke="#000" stroke-width="1.7"/>
<line x1="907.20" y1="464.00" x2="911.20" y2="464.00" stroke="#000" stroke-width="1.7"/>
<line x1="907.10" y1="468.00" x2="907.10" y2="461.00" stroke="#000" stroke-width="1.7"/>
<line x1="1050.97" y1="468.00" x2="1050.97" y2="461.00" stroke="#000" stroke-width="1.7"/>
<line x1="1194.85" y1="468.00" x2="1194.85" y2="461.00" stroke="#000" stroke-width="1.7"/>
<line x1="1338.72" y1="468.00" x2="1338.72" y2="461.00" stroke="#000" stroke-width="1.7"/>
<line x1="1482.60" y1="468.00" x2="1482.60" y2="461.00" stroke="#000" stroke-width="1.7"/>
<line x1="979.04" y1="468.00" x2="979.04" y2="464.00" stroke="#000" stroke-width="1.7"/>
<line x1="1122.91" y1="468.00" x2="1122.91" y2="464.00" stroke="#000" stroke-width="1.7"/>
<line x1="1266.79" y1="468.00" x2="1266.79" y2="464.00" stroke="#000" stroke-width="1.7"/>
<line x1="1410.66" y1="468.00" x2="1410.66" y2="464.00" stroke="#000" stroke-width="1.7"/>
<line x1="907.10" y1="0.80" x2="907.10" y2="7.80" stroke="#000" stroke-width="1.7"/>
<line x1="1050.97" y1="0.80" x2="1050.97" y2="7.80" stroke="#000" stroke-width="1.7"/>
<line x1="1194.85" y1="0.80" x2="1194.85" y2="7.80" stroke="#000" stroke-width="1.7"/>
<line x1="1338.72" y1="0.80" x2="1338.72" y2="7.80" stroke="#000" stroke-width="1.7"/>
<line x1="1482.60" y1="0.80" x2="1482.60" y2="7.80" stroke="#000" stroke-width="1.7"/>
<line x1="979.04" y1="0.80" x2="979.04" y2="4.80" stroke="#000" stroke-width="1.7"/>
<line x1="1122.91" y1="0.80" x2="1122.91" y2="4.80" stroke="#000" stroke-width="1.7"/>
<line x1="1266.79" y1="0.80" x2="1266.79" y2="4.80" stroke="#000" stroke-width="1.7"/>
<line x1="1410.66" y1="0.80" x2="1410.66" y2="4.80" stroke="#000" stroke-width="1.7"/>
<rect x="907.20" y="468.00" width="575.40" height="467.20" fill="none" stroke="#000" stroke-width="1.7"/>
<line x1="907.20" y1="563.60" x2="914.20" y2="563.60" stroke="#000" stroke-width="1.7"/>
<text x="836.72 854.52 863.41 881.20" y="574.00" font-size="32">0.48</text>
<line x1="907.20" y1="682.40" x2="914.20" y2="682.40" stroke="#000" stroke-width="1.7"/>
<text x="836.72 854.52 863.41 881.20" y="692.80" font-size="32">0.24</text>
<line x1="907.20" y1="801.30" x2="914.20" y2="801.30" stroke="#000" stroke-width="1.7"/>
<text x="836.72 854.52 863.41 881.20" y="811.70" font-size="32">0.00</text>
<line x1="907.20" y1="919.80" x2="914.20" y2="919.80" stroke="#000" stroke-width="1.7"/>
<text x="826.06 836.72 854.52 863.41 881.20" y="930.20" font-size="32">-0.24</text>
<line x1="907.20" y1="504.20" x2="911.20" y2="504.20" stroke="#000" stroke-width="1.7"/>
<line x1="907.20" y1="623.00" x2="911.20" y2="623.00" stroke="#000" stroke-width="1.7"/>
<line x1="907.20" y1="741.80" x2="911.20" y2="741.80" stroke="#000" stroke-width="1.7"/>
<line x1="907.20" y1="860.50" x2="911.20" y2="860.50" stroke="#000" stroke-width="1.7"/>
<line x1="907.10" y1="935.20" x2="907.10" y2="928.20" stroke="#000" stroke-width="1.7"/>
<line x1="1050.97" y1="935.20" x2="1050.97" y2="928.20" stroke="#000" stroke-width="1.7"/>
<line x1="1194.85" y1="935.20" x2="1194.85" y2="928.20" stroke="#000" stroke-width="1.7"/>
<line x1="1338.72" y1="935.20" x2="1338.72" y2="928.20" stroke="#000" stroke-width="1.7"/>
<line x1="1482.60" y1="935.20" x2="1482.60" y2="928.20" stroke="#000" stroke-width="1.7"/>
<line x1="979.04" y1="935.20" x2="979.04" y2="931.20" stroke="#000" stroke-width="1.7"/>
<line x1="1122.91" y1="935.20" x2="1122.91" y2="931.20" stroke="#000" stroke-width="1.7"/>
<line x1="1266.79" y1="935.20" x2="1266.79" y2="931.20" stroke="#000" stroke-width="1.7"/>
<line x1="1410.66" y1="935.20" x2="1410.66" y2="931.20" stroke="#000" stroke-width="1.7"/>
<rect x="907.10" y="935.00" width="575.70" height="467.70" fill="none" stroke="#000" stroke-width="1.7"/>
<line x1="907.10" y1="961.60" x2="900.10" y2="961.60" stroke="#000" stroke-width="1.7"/>
<text x="832.72 850.52 859.41 877.20" y="972.00" font-size="32">0.74</text>
<line x1="907.10" y1="1077.70" x2="900.10" y2="1077.70" stroke="#000" stroke-width="1.7"/>
<text x="832.72 850.52 859.41 877.20" y="1088.10" font-size="32">0.37</text>
<line x1="907.10" y1="1194.70" x2="900.10" y2="1194.70" stroke="#000" stroke-width="1.7"/>
<text x="832.72 850.52 859.41 877.20" y="1205.10" font-size="32">0.00</text>
<line x1="907.10" y1="1310.80" x2="900.10" y2="1310.80" stroke="#000" stroke-width="1.7"/>
<text x="822.06 832.72 850.52 859.41 877.20" y="1321.20" font-size="32">-0.37</text>
<line x1="907.10" y1="1019.50" x2="903.10" y2="1019.50" stroke="#000" stroke-width="1.7"/>
<line x1="907.10" y1="1136.20" x2="903.10" y2="1136.20" stroke="#000" stroke-width="1.7"/>
<line x1="907.10" y1="1252.80" x2="903.10" y2="1252.80" stroke="#000" stroke-width="1.7"/>
<line x1="907.10" y1="1369.00" x2="903.10" y2="1369.00" stroke="#000" stroke-width="1.7"/>
<line x1="907.10" y1="1402.70" x2="907.10" y2="1409.70" stroke="#000" stroke-width="1.7"/>
<text x="898.20" y="1439.60" font-size="32">0</text>
<line x1="1050.97" y1="1402.70" x2="1050.97" y2="1409.70" stroke="#000" stroke-width="1.7"/>
<text x="1042.08" y="1439.60" font-size="32">5</text>
<line x1="1194.85" y1="1402.70" x2="1194.85" y2="1409.70" stroke="#000" stroke-width="1.7"/>
<path d="M763,0L583,0L583,1147Q518,1085 412.5,1023Q307,961 223,930L223,1104Q374,1175 487,1276Q600,1377 647,1472L763,1472Z" stroke="#000" stroke-width="19.2" transform="translate(1177.05,1439.60) scale(0.01562,-0.01562)"/>
<text x="1194.85" y="1439.60" font-size="32">0</text>
<line x1="1338.72" y1="1402.70" x2="1338.72" y2="1409.70" stroke="#000" stroke-width="1.7"/>
<path d="M763,0L583,0L583,1147Q518,1085 412.5,1023Q307,961 223,930L223,1104Q374,1175 487,1276Q600,1377 647,1472L763,1472Z" stroke="#000" stroke-width="19.2" transform="translate(1320.93,1439.60) scale(0.01562,-0.01562)"/>
<text x="1338.72" y="1439.60" font-size="32">5</text>
<line x1="1482.60" y1="1402.70" x2="1482.60" y2="1409.70" stroke="#000" stroke-width="1.7"/>
<text x="1464.80 1482.60" y="1439.60" font-size="32">20</text>
<line x1="979.04" y1="1402.70" x2="979.04" y2="1406.70" stroke="#000" stroke-width="1.7"/>
<line x1="1122.91" y1="1402.70" x2="1122.91" y2="1406.70" stroke="#000" stroke-width="1.7"/>
<line x1="1266.79" y1="1402.70" x2="1266.79" y2="1406.70" stroke="#000" stroke-width="1.7"/>
<line x1="1410.66" y1="1402.70" x2="1410.66" y2="1406.70" stroke="#000" stroke-width="1.7"/>
<circle cx="935.88" cy="374.50" r="5.15" fill="#008080" stroke="#000" stroke-width="1.4"/>
<circle cx="964.65" cy="360.70" r="5.15" fill="#008080" stroke="#000" stroke-width="1.4"/>
<circle cx="993.42" cy="341.70" r="5.15" fill="#008080" stroke="#000" stroke-width="1.4"/>
<circle cx="1022.20" cy="322.70" r="5.15" fill="#008080" stroke="#000" stroke-width="1.4"/>
<circle cx="1050.97" cy="304.10" r="5.15" fill="#008080" stroke="#000" stroke-width="1.4"/>
<circle cx="1079.75" cy="288.20" r="5.15" fill="#008080" stroke="#000" stroke-width="1.4"/>
<circle cx="1108.53" cy="272.90" r="5.15" fill="#008080" stroke="#000" stroke-width="1.4"/>
<circle cx="1137.30" cy="251.10" r="5.15" fill="#008080" stroke="#000" stroke-width="1.4"/>
<circle cx="1166.08" cy="231.90" r="5.15" fill="#008080" stroke="#000" stroke-width="1.4"/>
<circle cx="1194.85" cy="215.50" r="5.15" fill="#008080" stroke="#000" stroke-width="1.4"/>
<circle cx="1223.62" cy="184.00" r="5.15" fill="#008080" stroke="#000" stroke-width="1.4"/>
<circle cx="1252.40" cy="166.30" r="5.15" fill="#008080" stroke="#000" stroke-width="1.4"/>
<circle cx="1281.17" cy="144.50" r="5.15" fill="#008080" stroke="#000" stroke-width="1.4"/>
<circle cx="1309.95" cy="117.60" r="5.15" fill="#008080" stroke="#000" stroke-width="1.4"/>
<circle cx="1338.72" cy="93.40" r="5.15" fill="#008080" stroke="#000" stroke-width="1.4"/>
<circle cx="1367.50" cy="73.30" r="5.15" fill="#008080" stroke="#000" stroke-width="1.4"/>
<circle cx="1396.28" cy="52.40" r="5.15" fill="#008080" stroke="#000" stroke-width="1.4"/>
<circle cx="1425.05" cy="31.20" r="5.15" fill="#008080" stroke="#000" stroke-width="1.4"/>
<circle cx="1453.83" cy="32.40" r="5.15" fill="#008080" stroke="#000" stroke-width="1.4"/>
<circle cx="1482.60" cy="111.20" r="5.15" fill="#008080" stroke="#000" stroke-width="1.4"/>
<circle cx="935.88" cy="876.60" r="5.15" fill="#008080" stroke="#000" stroke-width="1.4"/>
<circle cx="964.65" cy="880.60" r="5.15" fill="#008080" stroke="#000" stroke-width="1.4"/>
<circle cx="993.42" cy="881.40" r="5.15" fill="#008080" stroke="#000" stroke-width="1.4"/>
<circle cx="1022.20" cy="883.80" r="5.15" fill="#008080" stroke="#000" stroke-width="1.4"/>
<circle cx="1050.97" cy="882.70" r="5.15" fill="#008080" stroke="#000" stroke-width="1.4"/>
<circle cx="1079.75" cy="882.40" r="5.15" fill="#008080" stroke="#000" stroke-width="1.4"/>
<circle cx="1108.53" cy="883.80" r="5.15" fill="#008080" stroke="#000" stroke-width="1.4"/>
<circle cx="1137.30" cy="883.80" r="5.15" fill="#008080" stroke="#000" stroke-width="1.4"/>
<circle cx="1166.08" cy="884.00" r="5.15" fill="#008080" stroke="#000" stroke-width="1.4"/>
<circle cx="1194.85" cy="879.20" r="5.15" fill="#008080" stroke="#000" stroke-width="1.4"/>
<circle cx="1223.62" cy="877.00" r="5.15" fill="#008080" stroke="#000" stroke-width="1.4"/>
<circle cx="1252.40" cy="868.10" r="5.15" fill="#008080" stroke="#000" stroke-width="1.4"/>
<circle cx="1281.17" cy="857.00" r="5.15" fill="#008080" stroke="#000" stroke-width="1.4"/>
<circle cx="1309.95" cy="836.90" r="5.15" fill="#008080" stroke="#000" stroke-width="1.4"/>
<circle cx="1338.72" cy="807.40" r="5.15" fill="#008080" stroke="#000" stroke-width="1.4"/>
<circle cx="1367.50" cy="770.40" r="5.15" fill="#008080" stroke="#000" stroke-width="1.4"/>
<circle cx="1396.28" cy="718.00" r="5.15" fill="#008080" stroke="#000" stroke-width="1.4"/>
<circle cx="1425.05" cy="638.00" r="5.15" fill="#008080" stroke="#000" stroke-width="1.4"/>
<circle cx="1453.83" cy="557.00" r="5.15" fill="#008080" stroke="#000" stroke-width="1.4"/>
<circle cx="1482.60" cy="535.40" r="5.15" fill="#008080" stroke="#000" stroke-width="1.4"/>
<circle cx="935.88" cy="1181.90" r="5.15" fill="#008080" stroke="#000" stroke-width="1.4"/>
<circle cx="964.65" cy="1158.10" r="5.15" fill="#008080" stroke="#000" stroke-width="1.4"/>
<circle cx="993.42" cy="1146.60" r="5.15" fill="#008080" stroke="#000" stroke-width="1.4"/>
<circle cx="1022.20" cy="1175.50" r="5.15" fill="#008080" stroke="#000" stroke-width="1.4"/>
<circle cx="1050.97" cy="1160.00" r="5.15" fill="#008080" stroke="#000" stroke-width="1.4"/>
<circle cx="1079.75" cy="1169.90" r="5.15" fill="#008080" stroke="#000" stroke-width="1.4"/>
<circle cx="1108.53" cy="1181.90" r="5.15" fill="#008080" stroke="#000" stroke-width="1.4"/>
<circle cx="1137.30" cy="1164.50" r="5.15" fill="#008080" stroke="#000" stroke-width="1.4"/>
<circle cx="1166.08" cy="1135.90" r="5.15" fill="#008080" stroke="#000" stroke-width="1.4"/>
<circle cx="1194.85" cy="1221.30" r="5.15" fill="#008080" stroke="#000" stroke-width="1.4"/>
<circle cx="1223.62" cy="1150.70" r="5.15" fill="#008080" stroke="#000" stroke-width="1.4"/>
<circle cx="1252.40" cy="1178.80" r="5.15" fill="#008080" stroke="#000" stroke-width="1.4"/>
<circle cx="1281.17" cy="1215.50" r="5.15" fill="#008080" stroke="#000" stroke-width="1.4"/>
<circle cx="1309.95" cy="1230.20" r="5.15" fill="#008080" stroke="#000" stroke-width="1.4"/>
<circle cx="1338.72" cy="1300.00" r="5.15" fill="#008080" stroke="#000" stroke-width="1.4"/>
<circle cx="1367.50" cy="1245.90" r="5.15" fill="#008080" stroke="#000" stroke-width="1.4"/>
<circle cx="1396.28" cy="1236.30" r="5.15" fill="#008080" stroke="#000" stroke-width="1.4"/>
<circle cx="1425.05" cy="1327.70" r="5.15" fill="#008080" stroke="#000" stroke-width="1.4"/>
<circle cx="1453.83" cy="1236.90" r="5.15" fill="#008080" stroke="#000" stroke-width="1.4"/>
<circle cx="1482.60" cy="973.40" r="5.15" fill="#008080" stroke="#000" stroke-width="1.4"/>
<rect x="144.40" y="1568.90" width="579.70" height="467.70" fill="none" stroke="#000" stroke-width="1.7"/>
<line x1="168.60" y1="2036.60" x2="168.60" y2="2043.40" stroke="#000" stroke-width="1.7"/>
<text x="159.70" y="2073.20" font-size="32">0</text>
<line x1="216.90" y1="2036.60" x2="216.90" y2="2043.40" stroke="#000" stroke-width="1.7"/>
<text x="208.00" y="2073.20" font-size="32">2</text>
<line x1="265.20" y1="2036.60" x2="265.20" y2="2043.40" stroke="#000" stroke-width="1.7"/>
<text x="256.30" y="2073.20" font-size="32">4</text>
<line x1="313.50" y1="2036.60" x2="313.50" y2="2043.40" stroke="#000" stroke-width="1.7"/>
<text x="304.60" y="2073.20" font-size="32">6</text>
<line x1="361.80" y1="2036.60" x2="361.80" y2="2043.40" stroke="#000" stroke-width="1.7"/>
<text x="352.90" y="2073.20" font-size="32">8</text>
<line x1="410.10" y1="2036.60" x2="410.10" y2="2043.40" stroke="#000" stroke-width="1.7"/>
<path d="M763,0L583,0L583,1147Q518,1085 412.5,1023Q307,961 223,930L223,1104Q374,1175 487,1276Q600,1377 647,1472L763,1472Z" stroke="#000" stroke-width="19.2" transform="translate(392.30,2073.20) scale(0.01562,-0.01562)"/>
<text x="410.10" y="2073.20" font-size="32">0</text>
<line x1="458.40" y1="2036.60" x2="458.40" y2="2043.40" stroke="#000" stroke-width="1.7"/>
<path d="M763,0L583,0L583,1147Q518,1085 412.5,1023Q307,961 223,930L223,1104Q374,1175 487,1276Q600,1377 647,1472L763,1472Z" stroke="#000" stroke-width="19.2" transform="translate(440.60,2073.20) scale(0.01562,-0.01562)"/>
<text x="458.40" y="2073.20" font-size="32">2</text>
<line x1="506.70" y1="2036.60" x2="506.70" y2="2043.40" stroke="#000" stroke-width="1.7"/>
<path d="M763,0L583,0L583,1147Q518,1085 412.5,1023Q307,961 223,930L223,1104Q374,1175 487,1276Q600,1377 647,1472L763,1472Z" stroke="#000" stroke-width="19.2" transform="translate(488.90,2073.20) scale(0.01562,-0.01562)"/>
<text x="506.70" y="2073.20" font-size="32">4</text>
<line x1="555.00" y1="2036.60" x2="555.00" y2="2043.40" stroke="#000" stroke-width="1.7"/>
<path d="M763,0L583,0L583,1147Q518,1085 412.5,1023Q307,961 223,930L223,1104Q374,1175 487,1276Q600,1377 647,1472L763,1472Z" stroke="#000" stroke-width="19.2" transform="translate(537.20,2073.20) scale(0.01562,-0.01562)"/>
<text x="555.00" y="2073.20" font-size="32">6</text>
<line x1="603.30" y1="2036.60" x2="603.30" y2="2043.40" stroke="#000" stroke-width="1.7"/>
<path d="M763,0L583,0L583,1147Q518,1085 412.5,1023Q307,961 223,930L223,1104Q374,1175 487,1276Q600,1377 647,1472L763,1472Z" stroke="#000" stroke-width="19.2" transform="translate(585.50,2073.20) scale(0.01562,-0.01562)"/>
<text x="603.30" y="2073.20" font-size="32">8</text>
<line x1="651.60" y1="2036.60" x2="651.60" y2="2043.40" stroke="#000" stroke-width="1.7"/>
<text x="633.80 651.60" y="2073.20" font-size="32">20</text>
<line x1="699.90" y1="2036.60" x2="699.90" y2="2043.40" stroke="#000" stroke-width="1.7"/>
<text x="682.10 699.90" y="2073.20" font-size="32">22</text>
<line x1="144.45" y1="2036.60" x2="144.45" y2="2040.20" stroke="#000" stroke-width="1.7"/>
<line x1="192.75" y1="2036.60" x2="192.75" y2="2040.20" stroke="#000" stroke-width="1.7"/>
<line x1="241.05" y1="2036.60" x2="241.05" y2="2040.20" stroke="#000" stroke-width="1.7"/>
<line x1="289.35" y1="2036.60" x2="289.35" y2="2040.20" stroke="#000" stroke-width="1.7"/>
<line x1="337.65" y1="2036.60" x2="337.65" y2="2040.20" stroke="#000" stroke-width="1.7"/>
<line x1="385.95" y1="2036.60" x2="385.95" y2="2040.20" stroke="#000" stroke-width="1.7"/>
<line x1="434.25" y1="2036.60" x2="434.25" y2="2040.20" stroke="#000" stroke-width="1.7"/>
<line x1="482.55" y1="2036.60" x2="482.55" y2="2040.20" stroke="#000" stroke-width="1.7"/>
<line x1="530.85" y1="2036.60" x2="530.85" y2="2040.20" stroke="#000" stroke-width="1.7"/>
<line x1="579.15" y1="2036.60" x2="579.15" y2="2040.20" stroke="#000" stroke-width="1.7"/>
<line x1="627.45" y1="2036.60" x2="627.45" y2="2040.20" stroke="#000" stroke-width="1.7"/>
<line x1="675.75" y1="2036.60" x2="675.75" y2="2040.20" stroke="#000" stroke-width="1.7"/>
<line x1="724.05" y1="2036.60" x2="724.05" y2="2040.20" stroke="#000" stroke-width="1.7"/>
<line x1="144.40" y1="2020.22" x2="140.40" y2="2020.22" stroke="#000" stroke-width="1.7"/>
<line x1="144.40" y1="1995.00" x2="140.40" y2="1995.00" stroke="#000" stroke-width="1.7"/>
<line x1="144.40" y1="1975.45" x2="140.40" y2="1975.45" stroke="#000" stroke-width="1.7"/>
<line x1="144.40" y1="1959.47" x2="140.40" y2="1959.47" stroke="#000" stroke-width="1.7"/>
<line x1="144.40" y1="1945.96" x2="140.40" y2="1945.96" stroke="#000" stroke-width="1.7"/>
<line x1="144.40" y1="1934.26" x2="140.40" y2="1934.26" stroke="#000" stroke-width="1.7"/>
<line x1="144.40" y1="1923.93" x2="140.40" y2="1923.93" stroke="#000" stroke-width="1.7"/>
<line x1="144.40" y1="1914.70" x2="137.40" y2="1914.70" stroke="#000" stroke-width="1.7"/>
<line x1="144.40" y1="1853.95" x2="140.40" y2="1853.95" stroke="#000" stroke-width="1.7"/>
<line x1="144.40" y1="1818.42" x2="140.40" y2="1818.42" stroke="#000" stroke-width="1.7"/>
<line x1="144.40" y1="1793.20" x2="140.40" y2="1793.20" stroke="#000" stroke-width="1.7"/>
<line x1="144.40" y1="1773.65" x2="140.40" y2="1773.65" stroke="#000" stroke-width="1.7"/>
<line x1="144.40" y1="1757.67" x2="140.40" y2="1757.67" stroke="#000" stroke-width="1.7"/>
<line x1="144.40" y1="1744.16" x2="140.40" y2="1744.16" stroke="#000" stroke-width="1.7"/>
<line x1="144.40" y1="1732.46" x2="140.40" y2="1732.46" stroke="#000" stroke-width="1.7"/>
<line x1="144.40" y1="1722.13" x2="140.40" y2="1722.13" stroke="#000" stroke-width="1.7"/>
<line x1="144.40" y1="1712.90" x2="137.40" y2="1712.90" stroke="#000" stroke-width="1.7"/>
<line x1="144.40" y1="1652.15" x2="140.40" y2="1652.15" stroke="#000" stroke-width="1.7"/>
<line x1="144.40" y1="1616.62" x2="140.40" y2="1616.62" stroke="#000" stroke-width="1.7"/>
<line x1="144.40" y1="1591.40" x2="140.40" y2="1591.40" stroke="#000" stroke-width="1.7"/>
<line x1="144.40" y1="1571.85" x2="140.40" y2="1571.85" stroke="#000" stroke-width="1.7"/>
<path d="M763,0L583,0L583,1147Q518,1085 412.5,1023Q307,961 223,930L223,1104Q374,1175 487,1276Q600,1377 647,1472L763,1472Z" stroke="#000" stroke-width="19.2" transform="translate(85.11,1726.00) scale(0.01562,-0.01562)"/>
<text x="102.90" y="1726.00" font-size="32">0</text>
<text x="120.20" y="1712.80" font-size="22">5</text>
<path d="M763,0L583,0L583,1147Q518,1085 412.5,1023Q307,961 223,930L223,1104Q374,1175 487,1276Q600,1377 647,1472L763,1472Z" stroke="#000" stroke-width="19.2" transform="translate(85.11,1926.50) scale(0.01562,-0.01562)"/>
<text x="102.90" y="1926.50" font-size="32">0</text>
<text x="120.20" y="1913.50" font-size="22">4</text>
<circle cx="192.75" cy="1600.90" r="5.15" fill="#008080" stroke="#000" stroke-width="1.4"/>
<circle cx="216.90" cy="1711.30" r="5.15" fill="#008080" stroke="#000" stroke-width="1.4"/>
<circle cx="241.05" cy="1957.80" r="5.15" fill="#008080" stroke="#000" stroke-width="1.4"/>
<circle cx="265.20" cy="1966.90" r="5.15" fill="#008080" stroke="#000" stroke-width="1.4"/>
<circle cx="289.35" cy="1970.70" r="5.15" fill="#008080" stroke="#000" stroke-width="1.4"/>
<circle cx="313.50" cy="1971.50" r="5.15" fill="#008080" stroke="#000" stroke-width="1.4"/>
<circle cx="337.65" cy="1973.50" r="5.15" fill="#008080" stroke="#000" stroke-width="1.4"/>
<circle cx="361.80" cy="1974.80" r="5.15" fill="#008080" stroke="#000" stroke-width="1.4"/>
<circle cx="385.95" cy="1979.40" r="5.15" fill="#008080" stroke="#000" stroke-width="1.4"/>
<circle cx="410.10" cy="1979.90" r="5.15" fill="#008080" stroke="#000" stroke-width="1.4"/>
<circle cx="434.25" cy="1982.40" r="5.15" fill="#008080" stroke="#000" stroke-width="1.4"/>
<circle cx="458.40" cy="1986.50" r="5.15" fill="#008080" stroke="#000" stroke-width="1.4"/>
<circle cx="482.55" cy="1987.00" r="5.15" fill="#008080" stroke="#000" stroke-width="1.4"/>
<circle cx="506.70" cy="1989.40" r="5.15" fill="#008080" stroke="#000" stroke-width="1.4"/>
<circle cx="530.85" cy="1991.10" r="5.15" fill="#008080" stroke="#000" stroke-width="1.4"/>
<circle cx="555.00" cy="1993.70" r="5.15" fill="#008080" stroke="#000" stroke-width="1.4"/>
<circle cx="579.15" cy="1994.70" r="5.15" fill="#008080" stroke="#000" stroke-width="1.4"/>
<circle cx="603.30" cy="1996.60" r="5.15" fill="#008080" stroke="#000" stroke-width="1.4"/>
<circle cx="627.45" cy="1999.30" r="5.15" fill="#008080" stroke="#000" stroke-width="1.4"/>
<circle cx="651.60" cy="2002.10" r="5.15" fill="#008080" stroke="#000" stroke-width="1.4"/>
<rect x="900.80" y="1578.80" width="580.00" height="467.20" fill="none" stroke="#000" stroke-width="1.7"/>
<line x1="927.10" y1="2046.00" x2="927.10" y2="2053.00" stroke="#000" stroke-width="1.7"/>
<text x="918.20" y="2082.60" font-size="32">0</text>
<line x1="979.80" y1="2046.00" x2="979.80" y2="2053.00" stroke="#000" stroke-width="1.7"/>
<text x="970.90" y="2082.60" font-size="32">2</text>
<line x1="1032.50" y1="2046.00" x2="1032.50" y2="2053.00" stroke="#000" stroke-width="1.7"/>
<text x="1023.60" y="2082.60" font-size="32">4</text>
<line x1="1085.20" y1="2046.00" x2="1085.20" y2="2053.00" stroke="#000" stroke-width="1.7"/>
<text x="1076.30" y="2082.60" font-size="32">6</text>
<line x1="1137.90" y1="2046.00" x2="1137.90" y2="2053.00" stroke="#000" stroke-width="1.7"/>
<text x="1129.00" y="2082.60" font-size="32">8</text>
<line x1="1190.60" y1="2046.00" x2="1190.60" y2="2053.00" stroke="#000" stroke-width="1.7"/>
<path d="M763,0L583,0L583,1147Q518,1085 412.5,1023Q307,961 223,930L223,1104Q374,1175 487,1276Q600,1377 647,1472L763,1472Z" stroke="#000" stroke-width="19.2" transform="translate(1172.80,2082.60) scale(0.01562,-0.01562)"/>
<text x="1190.60" y="2082.60" font-size="32">0</text>
<line x1="1243.30" y1="2046.00" x2="1243.30" y2="2053.00" stroke="#000" stroke-width="1.7"/>
<path d="M763,0L583,0L583,1147Q518,1085 412.5,1023Q307,961 223,930L223,1104Q374,1175 487,1276Q600,1377 647,1472L763,1472Z" stroke="#000" stroke-width="19.2" transform="translate(1225.50,2082.60) scale(0.01562,-0.01562)"/>
<text x="1243.30" y="2082.60" font-size="32">2</text>
<line x1="1296.00" y1="2046.00" x2="1296.00" y2="2053.00" stroke="#000" stroke-width="1.7"/>
<path d="M763,0L583,0L583,1147Q518,1085 412.5,1023Q307,961 223,930L223,1104Q374,1175 487,1276Q600,1377 647,1472L763,1472Z" stroke="#000" stroke-width="19.2" transform="translate(1278.20,2082.60) scale(0.01562,-0.01562)"/>
<text x="1296.00" y="2082.60" font-size="32">4</text>
<line x1="1348.70" y1="2046.00" x2="1348.70" y2="2053.00" stroke="#000" stroke-width="1.7"/>
<path d="M763,0L583,0L583,1147Q518,1085 412.5,1023Q307,961 223,930L223,1104Q374,1175 487,1276Q600,1377 647,1472L763,1472Z" stroke="#000" stroke-width="19.2" transform="translate(1330.90,2082.60) scale(0.01562,-0.01562)"/>
<text x="1348.70" y="2082.60" font-size="32">6</text>
<line x1="1401.40" y1="2046.00" x2="1401.40" y2="2053.00" stroke="#000" stroke-width="1.7"/>
<path d="M763,0L583,0L583,1147Q518,1085 412.5,1023Q307,961 223,930L223,1104Q374,1175 487,1276Q600,1377 647,1472L763,1472Z" stroke="#000" stroke-width="19.2" transform="translate(1383.60,2082.60) scale(0.01562,-0.01562)"/>
<text x="1401.40" y="2082.60" font-size="32">8</text>
<line x1="1454.10" y1="2046.00" x2="1454.10" y2="2053.00" stroke="#000" stroke-width="1.7"/>
<text x="1436.30 1454.10" y="2082.60" font-size="32">20</text>
<line x1="900.75" y1="2046.00" x2="900.75" y2="2050.00" stroke="#000" stroke-width="1.7"/>
<line x1="953.45" y1="2046.00" x2="953.45" y2="2050.00" stroke="#000" stroke-width="1.7"/>
<line x1="1006.15" y1="2046.00" x2="1006.15" y2="2050.00" stroke="#000" stroke-width="1.7"/>
<line x1="1058.85" y1="2046.00" x2="1058.85" y2="2050.00" stroke="#000" stroke-width="1.7"/>
<line x1="1111.55" y1="2046.00" x2="1111.55" y2="2050.00" stroke="#000" stroke-width="1.7"/>
<line x1="1164.25" y1="2046.00" x2="1164.25" y2="2050.00" stroke="#000" stroke-width="1.7"/>
<line x1="1216.95" y1="2046.00" x2="1216.95" y2="2050.00" stroke="#000" stroke-width="1.7"/>
<line x1="1269.65" y1="2046.00" x2="1269.65" y2="2050.00" stroke="#000" stroke-width="1.7"/>
<line x1="1322.35" y1="2046.00" x2="1322.35" y2="2050.00" stroke="#000" stroke-width="1.7"/>
<line x1="1375.05" y1="2046.00" x2="1375.05" y2="2050.00" stroke="#000" stroke-width="1.7"/>
<line x1="1427.75" y1="2046.00" x2="1427.75" y2="2050.00" stroke="#000" stroke-width="1.7"/>
<line x1="1480.45" y1="2046.00" x2="1480.45" y2="2050.00" stroke="#000" stroke-width="1.7"/>
<line x1="900.80" y1="2045.57" x2="896.80" y2="2045.57" stroke="#000" stroke-width="1.7"/>
<line x1="900.80" y1="2000.82" x2="896.80" y2="2000.82" stroke="#000" stroke-width="1.7"/>
<line x1="900.80" y1="1964.25" x2="896.80" y2="1964.25" stroke="#000" stroke-width="1.7"/>
<line x1="900.80" y1="1933.33" x2="896.80" y2="1933.33" stroke="#000" stroke-width="1.7"/>
<line x1="900.80" y1="1906.55" x2="896.80" y2="1906.55" stroke="#000" stroke-width="1.7"/>
<line x1="900.80" y1="1882.93" x2="893.30" y2="1882.93" stroke="#000" stroke-width="1.7"/>
<text x="836.01 853.81 871.60" y="1893.33" font-size="32">200</text>
<line x1="900.80" y1="1861.80" x2="896.80" y2="1861.80" stroke="#000" stroke-width="1.7"/>
<line x1="900.80" y1="1842.69" x2="896.80" y2="1842.69" stroke="#000" stroke-width="1.7"/>
<line x1="900.80" y1="1825.23" x2="896.80" y2="1825.23" stroke="#000" stroke-width="1.7"/>
<line x1="900.80" y1="1809.18" x2="896.80" y2="1809.18" stroke="#000" stroke-width="1.7"/>
<line x1="900.80" y1="1794.32" x2="896.80" y2="1794.32" stroke="#000" stroke-width="1.7"/>
<line x1="900.80" y1="1780.48" x2="896.80" y2="1780.48" stroke="#000" stroke-width="1.7"/>
<line x1="900.80" y1="1767.54" x2="896.80" y2="1767.54" stroke="#000" stroke-width="1.7"/>
<line x1="900.80" y1="1755.38" x2="896.80" y2="1755.38" stroke="#000" stroke-width="1.7"/>
<line x1="900.80" y1="1743.92" x2="893.30" y2="1743.92" stroke="#000" stroke-width="1.7"/>
<text x="836.01 853.81 871.60" y="1754.32" font-size="32">400</text>
<line x1="900.80" y1="1733.07" x2="896.80" y2="1733.07" stroke="#000" stroke-width="1.7"/>
<line x1="900.80" y1="1722.78" x2="896.80" y2="1722.78" stroke="#000" stroke-width="1.7"/>
<line x1="900.80" y1="1713.00" x2="896.80" y2="1713.00" stroke="#000" stroke-width="1.7"/>
<line x1="900.80" y1="1703.67" x2="896.80" y2="1703.67" stroke="#000" stroke-width="1.7"/>
<line x1="900.80" y1="1694.75" x2="896.80" y2="1694.75" stroke="#000" stroke-width="1.7"/>
<line x1="900.80" y1="1686.22" x2="896.80" y2="1686.22" stroke="#000" stroke-width="1.7"/>
<line x1="900.80" y1="1678.03" x2="896.80" y2="1678.03" stroke="#000" stroke-width="1.7"/>
<line x1="900.80" y1="1670.17" x2="896.80" y2="1670.17" stroke="#000" stroke-width="1.7"/>
<line x1="900.80" y1="1662.60" x2="893.30" y2="1662.60" stroke="#000" stroke-width="1.7"/>
<text x="836.01 853.81 871.60" y="1673.00" font-size="32">600</text>
<line x1="900.80" y1="1655.30" x2="896.80" y2="1655.30" stroke="#000" stroke-width="1.7"/>
<line x1="900.80" y1="1648.27" x2="896.80" y2="1648.27" stroke="#000" stroke-width="1.7"/>
<line x1="900.80" y1="1641.47" x2="896.80" y2="1641.47" stroke="#000" stroke-width="1.7"/>
<line x1="900.80" y1="1634.89" x2="896.80" y2="1634.89" stroke="#000" stroke-width="1.7"/>
<line x1="900.80" y1="1628.52" x2="896.80" y2="1628.52" stroke="#000" stroke-width="1.7"/>
<line x1="900.80" y1="1622.35" x2="896.80" y2="1622.35" stroke="#000" stroke-width="1.7"/>
<line x1="900.80" y1="1616.36" x2="896.80" y2="1616.36" stroke="#000" stroke-width="1.7"/>
<line x1="900.80" y1="1610.55" x2="896.80" y2="1610.55" stroke="#000" stroke-width="1.7"/>
<line x1="900.80" y1="1604.90" x2="893.30" y2="1604.90" stroke="#000" stroke-width="1.7"/>
<text x="836.01 853.81 871.60" y="1615.30" font-size="32">800</text>
<line x1="900.80" y1="1599.40" x2="896.80" y2="1599.40" stroke="#000" stroke-width="1.7"/>
<line x1="900.80" y1="1594.06" x2="896.80" y2="1594.06" stroke="#000" stroke-width="1.7"/>
<line x1="900.80" y1="1588.85" x2="896.80" y2="1588.85" stroke="#000" stroke-width="1.7"/>
<line x1="900.80" y1="1583.77" x2="896.80" y2="1583.77" stroke="#000" stroke-width="1.7"/>
<line x1="900.80" y1="1578.82" x2="896.80" y2="1578.82" stroke="#000" stroke-width="1.7"/>
<circle cx="953.45" cy="1612.90" r="5.15" fill="#008080" stroke="#000" stroke-width="1.4"/>
<circle cx="979.80" cy="1940.20" r="5.15" fill="#008080" stroke="#000" stroke-width="1.4"/>
<circle cx="1006.15" cy="1944.50" r="5.15" fill="#008080" stroke="#000" stroke-width="1.4"/>
<circle cx="1032.50" cy="1947.40" r="5.15" fill="#008080" stroke="#000" stroke-width="1.4"/>
<circle cx="1058.85" cy="1949.60" r="5.15" fill="#008080" stroke="#000" stroke-width="1.4"/>
<circle cx="1085.20" cy="1952.40" r="5.15" fill="#008080" stroke="#000" stroke-width="1.4"/>
<circle cx="1111.55" cy="1955.00" r="5.15" fill="#008080" stroke="#000" stroke-width="1.4"/>
<circle cx="1137.90" cy="1958.20" r="5.15" fill="#008080" stroke="#000" stroke-width="1.4"/>
<circle cx="1164.25" cy="1960.70" r="5.15" fill="#008080" stroke="#000" stroke-width="1.4"/>
<circle cx="1190.60" cy="1963.60" r="5.15" fill="#008080" stroke="#000" stroke-width="1.4"/>
<circle cx="1216.95" cy="1965.70" r="5.15" fill="#008080" stroke="#000" stroke-width="1.4"/>
<circle cx="1243.30" cy="1967.90" r="5.15" fill="#008080" stroke="#000" stroke-width="1.4"/>
<circle cx="1269.65" cy="1970.40" r="5.15" fill="#008080" stroke="#000" stroke-width="1.4"/>
<circle cx="1296.00" cy="1972.60" r="5.15" fill="#008080" stroke="#000" stroke-width="1.4"/>
<circle cx="1322.35" cy="1975.10" r="5.15" fill="#008080" stroke="#000" stroke-width="1.4"/>
<circle cx="1348.70" cy="1976.90" r="5.15" fill="#008080" stroke="#000" stroke-width="1.4"/>
<circle cx="1375.05" cy="1979.40" r="5.15" fill="#008080" stroke="#000" stroke-width="1.4"/>
<circle cx="1401.40" cy="1983.00" r="5.15" fill="#008080" stroke="#000" stroke-width="1.4"/>
<circle cx="1427.75" cy="1985.80" r="5.15" fill="#008080" stroke="#000" stroke-width="1.4"/>
<text x="35.80" y="700.90" font-size="41.4" text-anchor="middle" transform="rotate(-90 35.80 700.90)">Intensity / a.u.</text>
<text x="817.70" y="684.90" font-size="41.6" text-anchor="middle" transform="rotate(-90 817.70 684.90)">Numerical value</text>
<text x="47.80" y="1843.50" font-size="41.7" text-anchor="middle" transform="rotate(-90 47.80 1843.50)">Numerical value / log scale</text>
<text x="803.80" y="1838.50" font-size="41.7" text-anchor="middle" transform="rotate(-90 803.80 1838.50)">Numerical value / log scale</text>
<text x="269.60 299.64 322.78 357.43 380.57 415.26 436.06 459.20 468.44 480.00 503.11 526.23 547.03" y="1498.10" font-size="41.6">Ramanshift/cm</text>
<path d="M763,0L583,0L583,1147Q518,1085 412.5,1023Q307,961 223,930L223,1104Q374,1175 487,1276Q600,1377 647,1472L763,1472Z" stroke="#000" stroke-width="21.9" transform="translate(591.01,1480.80) scale(0.01367,-0.01367)"/>
<text x="581.68" y="1480.80" font-size="28">-</text>
<text x="1120.33 1145.99 1155.32 1190.30 1225.33 1248.67" y="1501.40" font-size="42.0">Time/s</text>
<text x="252.55 280.30 303.43 326.57 347.37 370.51 393.64 414.44 426.00 439.85 462.99 509.20 532.34 555.47 590.12 613.26 636.40" y="2139.20" font-size="41.6">Subspectrumnumber</text>
<text x="1030.38 1055.85 1079.05 1099.90 1111.48 1134.67 1160.14 1183.34 1192.60 1227.34 1250.53 1273.72 1294.57 1303.83 1327.03" y="2137.00" font-size="41.7">Factordimension</text>
<text x="674.40" y="81.10" font-size="40" textLength="25.4" lengthAdjust="spacingAndGlyphs">S</text>
<path d="M763,0L583,0L583,1147Q518,1085 412.5,1023Q307,961 223,930L223,1104Q374,1175 487,1276Q600,1377 647,1472L763,1472Z" stroke="#000" stroke-width="23.6" transform="translate(699.20,90.90) scale(0.01270,-0.01270)"/>
<text x="673.60" y="536.50" font-size="40" textLength="25.4" lengthAdjust="spacingAndGlyphs">S</text>
<text x="698.40" y="546.30" font-size="26">2</text>
<text x="674.40" y="1005.60" font-size="40" textLength="25.4" lengthAdjust="spacingAndGlyphs">S</text>
<text x="699.20" y="1015.40" font-size="26">3</text>
<text x="932.00" y="70.80" font-size="40" textLength="24.6" lengthAdjust="spacingAndGlyphs">V</text>
<path d="M763,0L583,0L583,1147Q518,1085 412.5,1023Q307,961 223,930L223,1104Q374,1175 487,1276Q600,1377 647,1472L763,1472Z" stroke="#000" stroke-width="23.6" transform="translate(962.38,80.60) scale(0.01270,-0.01270)"/>
<text x="956.60" y="80.60" font-size="26">i</text>
<text x="931.40" y="524.90" font-size="40" textLength="24.6" lengthAdjust="spacingAndGlyphs">V</text>
<text x="956.00 961.78" y="534.70" font-size="26">i2</text>
<text x="931.40" y="987.00" font-size="40" textLength="24.6" lengthAdjust="spacingAndGlyphs">V</text>
<text x="956.00 961.78" y="996.80" font-size="26">i3</text>
<text x="383.20 408.55 416.99 438.12 459.26 480.39 488.83 509.97 533.18 552.18 573.31 581.75 602.89 624.02 653.58" y="1627.70" font-size="38">SingularvaluesW</text>
<text x="689.45" y="1637.20" font-size="26">j</text>
<text x="1217.30 1244.74 1265.88 1284.88 1293.32 1314.45 1335.59 1356.72 1375.72 1396.85 1409.51 1422.16 1443.30" y="1623.30" font-size="38">Residualerror</text></svg>
</body></html>
